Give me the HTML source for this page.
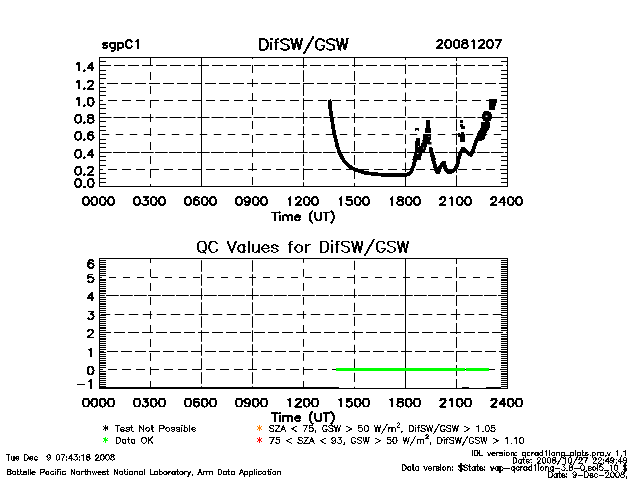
<!DOCTYPE html>
<html><head><meta charset="utf-8"><title>DifSW/GSW</title>
<style>html,body{margin:0;padding:0;background:#fff;font-family:"Liberation Sans",sans-serif}svg{position:absolute;left:0;top:0}</style></head>
<body>
<svg width="640" height="480" viewBox="0 0 640 480" style="display:block">
<rect width="640" height="480" fill="#fff"/>
<g shape-rendering="auto">
<rect x="99" y="57" width="409" height="1"/>
<rect x="99" y="186" width="409" height="1"/>
<rect x="99" y="57" width="1" height="130"/>
<rect x="507" y="57" width="1" height="130"/>
<rect x="100" y="182" width="6" height="1"/>
<rect x="501" y="182" width="6" height="1"/>
<rect x="100" y="178" width="6" height="1"/>
<rect x="501" y="178" width="6" height="1"/>
<rect x="100" y="173" width="6" height="1"/>
<rect x="501" y="173" width="6" height="1"/>
<rect x="100" y="165" width="6" height="1"/>
<rect x="501" y="165" width="6" height="1"/>
<rect x="100" y="160" width="6" height="1"/>
<rect x="501" y="160" width="6" height="1"/>
<rect x="100" y="156" width="6" height="1"/>
<rect x="501" y="156" width="6" height="1"/>
<rect x="100" y="147" width="6" height="1"/>
<rect x="501" y="147" width="6" height="1"/>
<rect x="100" y="143" width="6" height="1"/>
<rect x="501" y="143" width="6" height="1"/>
<rect x="100" y="139" width="6" height="1"/>
<rect x="501" y="139" width="6" height="1"/>
<rect x="100" y="130" width="6" height="1"/>
<rect x="501" y="130" width="6" height="1"/>
<rect x="100" y="126" width="6" height="1"/>
<rect x="501" y="126" width="6" height="1"/>
<rect x="100" y="121" width="6" height="1"/>
<rect x="501" y="121" width="6" height="1"/>
<rect x="100" y="113" width="6" height="1"/>
<rect x="501" y="113" width="6" height="1"/>
<rect x="100" y="108" width="6" height="1"/>
<rect x="501" y="108" width="6" height="1"/>
<rect x="100" y="104" width="6" height="1"/>
<rect x="501" y="104" width="6" height="1"/>
<rect x="100" y="95" width="6" height="1"/>
<rect x="501" y="95" width="6" height="1"/>
<rect x="100" y="91" width="6" height="1"/>
<rect x="501" y="91" width="6" height="1"/>
<rect x="100" y="87" width="6" height="1"/>
<rect x="501" y="87" width="6" height="1"/>
<rect x="100" y="78" width="6" height="1"/>
<rect x="501" y="78" width="6" height="1"/>
<rect x="100" y="74" width="6" height="1"/>
<rect x="501" y="74" width="6" height="1"/>
<rect x="100" y="70" width="6" height="1"/>
<rect x="501" y="70" width="6" height="1"/>
<rect x="100" y="61" width="6" height="1"/>
<rect x="501" y="61" width="6" height="1"/>
<rect x="100" y="65" width="11" height="1"/>
<rect x="114" y="65" width="11" height="1"/>
<rect x="128" y="65" width="11" height="1"/>
<rect x="142" y="65" width="11" height="1"/>
<rect x="156" y="65" width="11" height="1"/>
<rect x="170" y="65" width="11" height="1"/>
<rect x="184" y="65" width="11" height="1"/>
<rect x="198" y="65" width="11" height="1"/>
<rect x="212" y="65" width="11" height="1"/>
<rect x="226" y="65" width="11" height="1"/>
<rect x="240" y="65" width="11" height="1"/>
<rect x="254" y="65" width="11" height="1"/>
<rect x="268" y="65" width="11" height="1"/>
<rect x="282" y="65" width="11" height="1"/>
<rect x="296" y="65" width="11" height="1"/>
<rect x="310" y="65" width="11" height="1"/>
<rect x="324" y="65" width="11" height="1"/>
<rect x="338" y="65" width="11" height="1"/>
<rect x="352" y="65" width="11" height="1"/>
<rect x="366" y="65" width="11" height="1"/>
<rect x="380" y="65" width="11" height="1"/>
<rect x="394" y="65" width="11" height="1"/>
<rect x="408" y="65" width="11" height="1"/>
<rect x="422" y="65" width="11" height="1"/>
<rect x="436" y="65" width="11" height="1"/>
<rect x="450" y="65" width="11" height="1"/>
<rect x="464" y="65" width="11" height="1"/>
<rect x="478" y="65" width="11" height="1"/>
<rect x="492" y="65" width="11" height="1"/>
<rect x="506" y="65" width="1" height="1"/>
<rect x="100" y="83" width="4" height="1"/>
<rect x="107" y="83" width="11" height="1"/>
<rect x="121" y="83" width="11" height="1"/>
<rect x="135" y="83" width="11" height="1"/>
<rect x="149" y="83" width="11" height="1"/>
<rect x="163" y="83" width="11" height="1"/>
<rect x="177" y="83" width="11" height="1"/>
<rect x="191" y="83" width="11" height="1"/>
<rect x="205" y="83" width="11" height="1"/>
<rect x="219" y="83" width="11" height="1"/>
<rect x="233" y="83" width="11" height="1"/>
<rect x="247" y="83" width="11" height="1"/>
<rect x="261" y="83" width="11" height="1"/>
<rect x="275" y="83" width="11" height="1"/>
<rect x="289" y="83" width="11" height="1"/>
<rect x="303" y="83" width="11" height="1"/>
<rect x="317" y="83" width="11" height="1"/>
<rect x="331" y="83" width="11" height="1"/>
<rect x="345" y="83" width="11" height="1"/>
<rect x="359" y="83" width="11" height="1"/>
<rect x="373" y="83" width="11" height="1"/>
<rect x="387" y="83" width="11" height="1"/>
<rect x="401" y="83" width="11" height="1"/>
<rect x="415" y="83" width="11" height="1"/>
<rect x="429" y="83" width="11" height="1"/>
<rect x="443" y="83" width="11" height="1"/>
<rect x="457" y="83" width="11" height="1"/>
<rect x="471" y="83" width="11" height="1"/>
<rect x="485" y="83" width="11" height="1"/>
<rect x="499" y="83" width="8" height="1"/>
<rect x="100" y="100" width="3" height="1"/>
<rect x="108" y="100" width="9" height="1"/>
<rect x="122" y="100" width="9" height="1"/>
<rect x="136" y="100" width="9" height="1"/>
<rect x="150" y="100" width="9" height="1"/>
<rect x="164" y="100" width="9" height="1"/>
<rect x="178" y="100" width="9" height="1"/>
<rect x="192" y="100" width="9" height="1"/>
<rect x="206" y="100" width="9" height="1"/>
<rect x="220" y="100" width="9" height="1"/>
<rect x="234" y="100" width="9" height="1"/>
<rect x="248" y="100" width="9" height="1"/>
<rect x="262" y="100" width="9" height="1"/>
<rect x="276" y="100" width="9" height="1"/>
<rect x="290" y="100" width="9" height="1"/>
<rect x="304" y="100" width="9" height="1"/>
<rect x="318" y="100" width="9" height="1"/>
<rect x="332" y="100" width="9" height="1"/>
<rect x="346" y="100" width="9" height="1"/>
<rect x="360" y="100" width="9" height="1"/>
<rect x="374" y="100" width="9" height="1"/>
<rect x="388" y="100" width="9" height="1"/>
<rect x="402" y="100" width="9" height="1"/>
<rect x="416" y="100" width="9" height="1"/>
<rect x="430" y="100" width="9" height="1"/>
<rect x="444" y="100" width="9" height="1"/>
<rect x="458" y="100" width="9" height="1"/>
<rect x="472" y="100" width="9" height="1"/>
<rect x="486" y="100" width="9" height="1"/>
<rect x="500" y="100" width="7" height="1"/>
<rect x="100" y="117" width="11.5" height="1"/>
<rect x="113.5" y="117" width="12" height="1"/>
<rect x="127.5" y="117" width="12" height="1"/>
<rect x="141.5" y="117" width="12" height="1"/>
<rect x="155.5" y="117" width="12" height="1"/>
<rect x="169.5" y="117" width="12" height="1"/>
<rect x="183.5" y="117" width="12" height="1"/>
<rect x="197.5" y="117" width="12" height="1"/>
<rect x="211.5" y="117" width="12" height="1"/>
<rect x="225.5" y="117" width="12" height="1"/>
<rect x="239.5" y="117" width="12" height="1"/>
<rect x="253.5" y="117" width="12" height="1"/>
<rect x="267.5" y="117" width="12" height="1"/>
<rect x="281.5" y="117" width="12" height="1"/>
<rect x="295.5" y="117" width="12" height="1"/>
<rect x="309.5" y="117" width="12" height="1"/>
<rect x="323.5" y="117" width="12" height="1"/>
<rect x="337.5" y="117" width="12" height="1"/>
<rect x="351.5" y="117" width="12" height="1"/>
<rect x="365.5" y="117" width="12" height="1"/>
<rect x="379.5" y="117" width="12" height="1"/>
<rect x="393.5" y="117" width="12" height="1"/>
<rect x="407.5" y="117" width="12" height="1"/>
<rect x="421.5" y="117" width="12" height="1"/>
<rect x="435.5" y="117" width="12" height="1"/>
<rect x="449.5" y="117" width="12" height="1"/>
<rect x="463.5" y="117" width="12" height="1"/>
<rect x="477.5" y="117" width="12" height="1"/>
<rect x="491.5" y="117" width="12" height="1"/>
<rect x="505.5" y="117" width="1.5" height="1"/>
<rect x="101.8" y="134" width="7.4" height="1"/>
<rect x="115.8" y="134" width="7.4" height="1"/>
<rect x="129.8" y="134" width="7.4" height="1"/>
<rect x="143.8" y="134" width="7.4" height="1"/>
<rect x="157.8" y="134" width="7.4" height="1"/>
<rect x="171.8" y="134" width="7.4" height="1"/>
<rect x="185.8" y="134" width="7.4" height="1"/>
<rect x="199.8" y="134" width="7.4" height="1"/>
<rect x="213.8" y="134" width="7.4" height="1"/>
<rect x="227.8" y="134" width="7.4" height="1"/>
<rect x="241.8" y="134" width="7.4" height="1"/>
<rect x="255.8" y="134" width="7.4" height="1"/>
<rect x="269.8" y="134" width="7.4" height="1"/>
<rect x="283.8" y="134" width="7.4" height="1"/>
<rect x="297.8" y="134" width="7.4" height="1"/>
<rect x="311.8" y="134" width="7.4" height="1"/>
<rect x="325.8" y="134" width="7.4" height="1"/>
<rect x="339.8" y="134" width="7.4" height="1"/>
<rect x="353.8" y="134" width="7.4" height="1"/>
<rect x="367.8" y="134" width="7.4" height="1"/>
<rect x="381.8" y="134" width="7.4" height="1"/>
<rect x="395.8" y="134" width="7.4" height="1"/>
<rect x="409.8" y="134" width="7.4" height="1"/>
<rect x="423.8" y="134" width="7.4" height="1"/>
<rect x="437.8" y="134" width="7.4" height="1"/>
<rect x="451.8" y="134" width="7.4" height="1"/>
<rect x="465.8" y="134" width="7.4" height="1"/>
<rect x="479.8" y="134" width="7.4" height="1"/>
<rect x="493.8" y="134" width="7.4" height="1"/>
<rect x="100" y="152" width="11.7" height="1"/>
<rect x="113" y="152" width="12.7" height="1"/>
<rect x="127" y="152" width="12.7" height="1"/>
<rect x="141" y="152" width="12.7" height="1"/>
<rect x="155" y="152" width="12.7" height="1"/>
<rect x="169" y="152" width="12.7" height="1"/>
<rect x="183" y="152" width="12.7" height="1"/>
<rect x="197" y="152" width="12.7" height="1"/>
<rect x="211" y="152" width="12.7" height="1"/>
<rect x="225" y="152" width="12.7" height="1"/>
<rect x="239" y="152" width="12.7" height="1"/>
<rect x="253" y="152" width="12.7" height="1"/>
<rect x="267" y="152" width="12.7" height="1"/>
<rect x="281" y="152" width="12.7" height="1"/>
<rect x="295" y="152" width="12.7" height="1"/>
<rect x="309" y="152" width="12.7" height="1"/>
<rect x="323" y="152" width="12.7" height="1"/>
<rect x="337" y="152" width="12.7" height="1"/>
<rect x="351" y="152" width="12.7" height="1"/>
<rect x="365" y="152" width="12.7" height="1"/>
<rect x="379" y="152" width="12.7" height="1"/>
<rect x="393" y="152" width="12.7" height="1"/>
<rect x="407" y="152" width="12.7" height="1"/>
<rect x="421" y="152" width="12.7" height="1"/>
<rect x="435" y="152" width="12.7" height="1"/>
<rect x="449" y="152" width="12.7" height="1"/>
<rect x="463" y="152" width="12.7" height="1"/>
<rect x="477" y="152" width="12.7" height="1"/>
<rect x="491" y="152" width="12.7" height="1"/>
<rect x="505" y="152" width="2" height="1"/>
<rect x="100" y="169" width="3" height="1"/>
<rect x="108" y="169" width="9" height="1"/>
<rect x="122" y="169" width="9" height="1"/>
<rect x="136" y="169" width="9" height="1"/>
<rect x="150" y="169" width="9" height="1"/>
<rect x="164" y="169" width="9" height="1"/>
<rect x="178" y="169" width="9" height="1"/>
<rect x="192" y="169" width="9" height="1"/>
<rect x="206" y="169" width="9" height="1"/>
<rect x="220" y="169" width="9" height="1"/>
<rect x="234" y="169" width="9" height="1"/>
<rect x="248" y="169" width="9" height="1"/>
<rect x="262" y="169" width="9" height="1"/>
<rect x="276" y="169" width="9" height="1"/>
<rect x="290" y="169" width="9" height="1"/>
<rect x="304" y="169" width="9" height="1"/>
<rect x="318" y="169" width="9" height="1"/>
<rect x="332" y="169" width="9" height="1"/>
<rect x="346" y="169" width="9" height="1"/>
<rect x="360" y="169" width="9" height="1"/>
<rect x="374" y="169" width="9" height="1"/>
<rect x="388" y="169" width="9" height="1"/>
<rect x="402" y="169" width="9" height="1"/>
<rect x="416" y="169" width="9" height="1"/>
<rect x="430" y="169" width="9" height="1"/>
<rect x="444" y="169" width="9" height="1"/>
<rect x="458" y="169" width="9" height="1"/>
<rect x="472" y="169" width="9" height="1"/>
<rect x="486" y="169" width="9" height="1"/>
<rect x="500" y="169" width="7" height="1"/>
<rect x="150" y="58" width="1" height="8"/>
<rect x="150" y="72" width="1" height="8"/>
<rect x="150" y="86" width="1" height="8"/>
<rect x="150" y="100" width="1" height="8"/>
<rect x="150" y="114" width="1" height="8"/>
<rect x="150" y="128" width="1" height="8"/>
<rect x="150" y="142" width="1" height="8"/>
<rect x="150" y="156" width="1" height="8"/>
<rect x="150" y="170" width="1" height="8"/>
<rect x="150" y="184" width="1" height="2"/>
<rect x="201" y="58" width="1" height="12"/>
<rect x="201" y="70" width="1" height="14"/>
<rect x="201" y="84" width="1" height="14"/>
<rect x="201" y="98" width="1" height="14"/>
<rect x="201" y="112" width="1" height="14"/>
<rect x="201" y="126" width="1" height="14"/>
<rect x="201" y="140" width="1" height="14"/>
<rect x="201" y="154" width="1" height="14"/>
<rect x="201" y="168" width="1" height="14"/>
<rect x="201" y="182" width="1" height="4"/>
<rect x="252" y="58" width="1" height="1"/>
<rect x="252" y="65" width="1" height="8"/>
<rect x="252" y="79" width="1" height="8"/>
<rect x="252" y="93" width="1" height="8"/>
<rect x="252" y="107" width="1" height="8"/>
<rect x="252" y="121" width="1" height="8"/>
<rect x="252" y="135" width="1" height="8"/>
<rect x="252" y="149" width="1" height="8"/>
<rect x="252" y="163" width="1" height="8"/>
<rect x="252" y="177" width="1" height="8"/>
<rect x="303" y="58" width="1" height="10"/>
<rect x="303" y="70.2" width="1" height="11.8"/>
<rect x="303" y="84.2" width="1" height="11.8"/>
<rect x="303" y="98.2" width="1" height="11.8"/>
<rect x="303" y="112.2" width="1" height="11.8"/>
<rect x="303" y="126.2" width="1" height="11.8"/>
<rect x="303" y="140.2" width="1" height="11.8"/>
<rect x="303" y="154.2" width="1" height="11.8"/>
<rect x="303" y="168.2" width="1" height="11.8"/>
<rect x="303" y="182.2" width="1" height="3.8"/>
<rect x="354" y="58" width="1" height="9"/>
<rect x="354" y="71" width="1" height="10"/>
<rect x="354" y="85" width="1" height="10"/>
<rect x="354" y="99" width="1" height="10"/>
<rect x="354" y="113" width="1" height="10"/>
<rect x="354" y="127" width="1" height="10"/>
<rect x="354" y="141" width="1" height="10"/>
<rect x="354" y="155" width="1" height="10"/>
<rect x="354" y="169" width="1" height="10"/>
<rect x="354" y="183" width="1" height="3"/>
<rect x="405" y="58" width="1" height="2"/>
<rect x="405" y="64.5" width="1" height="9.5"/>
<rect x="405" y="78.5" width="1" height="9.5"/>
<rect x="405" y="92.5" width="1" height="9.5"/>
<rect x="405" y="106.5" width="1" height="9.5"/>
<rect x="405" y="120.5" width="1" height="9.5"/>
<rect x="405" y="134.5" width="1" height="9.5"/>
<rect x="405" y="148.5" width="1" height="9.5"/>
<rect x="405" y="162.5" width="1" height="9.5"/>
<rect x="405" y="176.5" width="1" height="9.5"/>
<rect x="456" y="58" width="1" height="3"/>
<rect x="456" y="63.2" width="1" height="11.8"/>
<rect x="456" y="77.2" width="1" height="11.8"/>
<rect x="456" y="91.2" width="1" height="11.8"/>
<rect x="456" y="105.2" width="1" height="11.8"/>
<rect x="456" y="119.2" width="1" height="11.8"/>
<rect x="456" y="133.2" width="1" height="11.8"/>
<rect x="456" y="147.2" width="1" height="11.8"/>
<rect x="456" y="161.2" width="1" height="11.8"/>
<rect x="456" y="175.2" width="1" height="10.8"/>
<rect x="99" y="258" width="409" height="1"/>
<rect x="99" y="388" width="409" height="1"/>
<rect x="99" y="258" width="1" height="131"/>
<rect x="507" y="258" width="1" height="131"/>
<rect x="100" y="386" width="6" height="1"/>
<rect x="501" y="386" width="6" height="1"/>
<rect x="100" y="384" width="6" height="1"/>
<rect x="501" y="384" width="6" height="1"/>
<rect x="100" y="382" width="6" height="1"/>
<rect x="501" y="382" width="6" height="1"/>
<rect x="100" y="380" width="6" height="1"/>
<rect x="501" y="380" width="6" height="1"/>
<rect x="100" y="378" width="6" height="1"/>
<rect x="501" y="378" width="6" height="1"/>
<rect x="100" y="376" width="6" height="1"/>
<rect x="501" y="376" width="6" height="1"/>
<rect x="100" y="374" width="6" height="1"/>
<rect x="501" y="374" width="6" height="1"/>
<rect x="100" y="373" width="6" height="1"/>
<rect x="501" y="373" width="6" height="1"/>
<rect x="100" y="371" width="6" height="1"/>
<rect x="501" y="371" width="6" height="1"/>
<rect x="100" y="367" width="6" height="1"/>
<rect x="501" y="367" width="6" height="1"/>
<rect x="100" y="365" width="6" height="1"/>
<rect x="501" y="365" width="6" height="1"/>
<rect x="100" y="363" width="6" height="1"/>
<rect x="501" y="363" width="6" height="1"/>
<rect x="100" y="362" width="6" height="1"/>
<rect x="501" y="362" width="6" height="1"/>
<rect x="100" y="360" width="6" height="1"/>
<rect x="501" y="360" width="6" height="1"/>
<rect x="100" y="358" width="6" height="1"/>
<rect x="501" y="358" width="6" height="1"/>
<rect x="100" y="356" width="6" height="1"/>
<rect x="501" y="356" width="6" height="1"/>
<rect x="100" y="354" width="6" height="1"/>
<rect x="501" y="354" width="6" height="1"/>
<rect x="100" y="352" width="6" height="1"/>
<rect x="501" y="352" width="6" height="1"/>
<rect x="100" y="349" width="6" height="1"/>
<rect x="501" y="349" width="6" height="1"/>
<rect x="100" y="347" width="6" height="1"/>
<rect x="501" y="347" width="6" height="1"/>
<rect x="100" y="345" width="6" height="1"/>
<rect x="501" y="345" width="6" height="1"/>
<rect x="100" y="343" width="6" height="1"/>
<rect x="501" y="343" width="6" height="1"/>
<rect x="100" y="341" width="6" height="1"/>
<rect x="501" y="341" width="6" height="1"/>
<rect x="100" y="339" width="6" height="1"/>
<rect x="501" y="339" width="6" height="1"/>
<rect x="100" y="338" width="6" height="1"/>
<rect x="501" y="338" width="6" height="1"/>
<rect x="100" y="336" width="6" height="1"/>
<rect x="501" y="336" width="6" height="1"/>
<rect x="100" y="334" width="6" height="1"/>
<rect x="501" y="334" width="6" height="1"/>
<rect x="100" y="330" width="6" height="1"/>
<rect x="501" y="330" width="6" height="1"/>
<rect x="100" y="328" width="6" height="1"/>
<rect x="501" y="328" width="6" height="1"/>
<rect x="100" y="327" width="6" height="1"/>
<rect x="501" y="327" width="6" height="1"/>
<rect x="100" y="325" width="6" height="1"/>
<rect x="501" y="325" width="6" height="1"/>
<rect x="100" y="323" width="6" height="1"/>
<rect x="501" y="323" width="6" height="1"/>
<rect x="100" y="321" width="6" height="1"/>
<rect x="501" y="321" width="6" height="1"/>
<rect x="100" y="319" width="6" height="1"/>
<rect x="501" y="319" width="6" height="1"/>
<rect x="100" y="317" width="6" height="1"/>
<rect x="501" y="317" width="6" height="1"/>
<rect x="100" y="315" width="6" height="1"/>
<rect x="501" y="315" width="6" height="1"/>
<rect x="100" y="312" width="6" height="1"/>
<rect x="501" y="312" width="6" height="1"/>
<rect x="100" y="310" width="6" height="1"/>
<rect x="501" y="310" width="6" height="1"/>
<rect x="100" y="308" width="6" height="1"/>
<rect x="501" y="308" width="6" height="1"/>
<rect x="100" y="306" width="6" height="1"/>
<rect x="501" y="306" width="6" height="1"/>
<rect x="100" y="304" width="6" height="1"/>
<rect x="501" y="304" width="6" height="1"/>
<rect x="100" y="303" width="6" height="1"/>
<rect x="501" y="303" width="6" height="1"/>
<rect x="100" y="301" width="6" height="1"/>
<rect x="501" y="301" width="6" height="1"/>
<rect x="100" y="299" width="6" height="1"/>
<rect x="501" y="299" width="6" height="1"/>
<rect x="100" y="297" width="6" height="1"/>
<rect x="501" y="297" width="6" height="1"/>
<rect x="100" y="293" width="6" height="1"/>
<rect x="501" y="293" width="6" height="1"/>
<rect x="100" y="291" width="6" height="1"/>
<rect x="501" y="291" width="6" height="1"/>
<rect x="100" y="290" width="6" height="1"/>
<rect x="501" y="290" width="6" height="1"/>
<rect x="100" y="288" width="6" height="1"/>
<rect x="501" y="288" width="6" height="1"/>
<rect x="100" y="286" width="6" height="1"/>
<rect x="501" y="286" width="6" height="1"/>
<rect x="100" y="284" width="6" height="1"/>
<rect x="501" y="284" width="6" height="1"/>
<rect x="100" y="282" width="6" height="1"/>
<rect x="501" y="282" width="6" height="1"/>
<rect x="100" y="280" width="6" height="1"/>
<rect x="501" y="280" width="6" height="1"/>
<rect x="100" y="279" width="6" height="1"/>
<rect x="501" y="279" width="6" height="1"/>
<rect x="100" y="275" width="6" height="1"/>
<rect x="501" y="275" width="6" height="1"/>
<rect x="100" y="273" width="6" height="1"/>
<rect x="501" y="273" width="6" height="1"/>
<rect x="100" y="271" width="6" height="1"/>
<rect x="501" y="271" width="6" height="1"/>
<rect x="100" y="269" width="6" height="1"/>
<rect x="501" y="269" width="6" height="1"/>
<rect x="100" y="267" width="6" height="1"/>
<rect x="501" y="267" width="6" height="1"/>
<rect x="100" y="266" width="6" height="1"/>
<rect x="501" y="266" width="6" height="1"/>
<rect x="100" y="264" width="6" height="1"/>
<rect x="501" y="264" width="6" height="1"/>
<rect x="100" y="262" width="6" height="1"/>
<rect x="501" y="262" width="6" height="1"/>
<rect x="100" y="260" width="6" height="1"/>
<rect x="501" y="260" width="6" height="1"/>
<rect x="100" y="277" width="2" height="1"/>
<rect x="109" y="277" width="7" height="1"/>
<rect x="123" y="277" width="7" height="1"/>
<rect x="137" y="277" width="7" height="1"/>
<rect x="151" y="277" width="7" height="1"/>
<rect x="165" y="277" width="7" height="1"/>
<rect x="179" y="277" width="7" height="1"/>
<rect x="193" y="277" width="7" height="1"/>
<rect x="207" y="277" width="7" height="1"/>
<rect x="221" y="277" width="7" height="1"/>
<rect x="235" y="277" width="7" height="1"/>
<rect x="249" y="277" width="7" height="1"/>
<rect x="263" y="277" width="7" height="1"/>
<rect x="277" y="277" width="7" height="1"/>
<rect x="291" y="277" width="7" height="1"/>
<rect x="305" y="277" width="7" height="1"/>
<rect x="319" y="277" width="7" height="1"/>
<rect x="333" y="277" width="7" height="1"/>
<rect x="347" y="277" width="7" height="1"/>
<rect x="361" y="277" width="7" height="1"/>
<rect x="375" y="277" width="7" height="1"/>
<rect x="389" y="277" width="7" height="1"/>
<rect x="403" y="277" width="7" height="1"/>
<rect x="417" y="277" width="7" height="1"/>
<rect x="431" y="277" width="7" height="1"/>
<rect x="445" y="277" width="7" height="1"/>
<rect x="459" y="277" width="7" height="1"/>
<rect x="473" y="277" width="7" height="1"/>
<rect x="487" y="277" width="7" height="1"/>
<rect x="501" y="277" width="6" height="1"/>
<rect x="100" y="295" width="4.8" height="1"/>
<rect x="106" y="295" width="12.8" height="1"/>
<rect x="120" y="295" width="12.8" height="1"/>
<rect x="134" y="295" width="12.8" height="1"/>
<rect x="148" y="295" width="12.8" height="1"/>
<rect x="162" y="295" width="12.8" height="1"/>
<rect x="176" y="295" width="12.8" height="1"/>
<rect x="190" y="295" width="12.8" height="1"/>
<rect x="204" y="295" width="12.8" height="1"/>
<rect x="218" y="295" width="12.8" height="1"/>
<rect x="232" y="295" width="12.8" height="1"/>
<rect x="246" y="295" width="12.8" height="1"/>
<rect x="260" y="295" width="12.8" height="1"/>
<rect x="274" y="295" width="12.8" height="1"/>
<rect x="288" y="295" width="12.8" height="1"/>
<rect x="302" y="295" width="12.8" height="1"/>
<rect x="316" y="295" width="12.8" height="1"/>
<rect x="330" y="295" width="12.8" height="1"/>
<rect x="344" y="295" width="12.8" height="1"/>
<rect x="358" y="295" width="12.8" height="1"/>
<rect x="372" y="295" width="12.8" height="1"/>
<rect x="386" y="295" width="12.8" height="1"/>
<rect x="400" y="295" width="12.8" height="1"/>
<rect x="414" y="295" width="12.8" height="1"/>
<rect x="428" y="295" width="12.8" height="1"/>
<rect x="442" y="295" width="12.8" height="1"/>
<rect x="456" y="295" width="12.8" height="1"/>
<rect x="470" y="295" width="12.8" height="1"/>
<rect x="484" y="295" width="12.8" height="1"/>
<rect x="498" y="295" width="9" height="1"/>
<rect x="100.8" y="314" width="9.4" height="1"/>
<rect x="114.8" y="314" width="9.4" height="1"/>
<rect x="128.8" y="314" width="9.4" height="1"/>
<rect x="142.8" y="314" width="9.4" height="1"/>
<rect x="156.8" y="314" width="9.4" height="1"/>
<rect x="170.8" y="314" width="9.4" height="1"/>
<rect x="184.8" y="314" width="9.4" height="1"/>
<rect x="198.8" y="314" width="9.4" height="1"/>
<rect x="212.8" y="314" width="9.4" height="1"/>
<rect x="226.8" y="314" width="9.4" height="1"/>
<rect x="240.8" y="314" width="9.4" height="1"/>
<rect x="254.8" y="314" width="9.4" height="1"/>
<rect x="268.8" y="314" width="9.4" height="1"/>
<rect x="282.8" y="314" width="9.4" height="1"/>
<rect x="296.8" y="314" width="9.4" height="1"/>
<rect x="310.8" y="314" width="9.4" height="1"/>
<rect x="324.8" y="314" width="9.4" height="1"/>
<rect x="338.8" y="314" width="9.4" height="1"/>
<rect x="352.8" y="314" width="9.4" height="1"/>
<rect x="366.8" y="314" width="9.4" height="1"/>
<rect x="380.8" y="314" width="9.4" height="1"/>
<rect x="394.8" y="314" width="9.4" height="1"/>
<rect x="408.8" y="314" width="9.4" height="1"/>
<rect x="422.8" y="314" width="9.4" height="1"/>
<rect x="436.8" y="314" width="9.4" height="1"/>
<rect x="450.8" y="314" width="9.4" height="1"/>
<rect x="464.8" y="314" width="9.4" height="1"/>
<rect x="478.8" y="314" width="9.4" height="1"/>
<rect x="492.8" y="314" width="9.4" height="1"/>
<rect x="506.8" y="314" width="0.2" height="1"/>
<rect x="100" y="332" width="11" height="1"/>
<rect x="114" y="332" width="11" height="1"/>
<rect x="128" y="332" width="11" height="1"/>
<rect x="142" y="332" width="11" height="1"/>
<rect x="156" y="332" width="11" height="1"/>
<rect x="170" y="332" width="11" height="1"/>
<rect x="184" y="332" width="11" height="1"/>
<rect x="198" y="332" width="11" height="1"/>
<rect x="212" y="332" width="11" height="1"/>
<rect x="226" y="332" width="11" height="1"/>
<rect x="240" y="332" width="11" height="1"/>
<rect x="254" y="332" width="11" height="1"/>
<rect x="268" y="332" width="11" height="1"/>
<rect x="282" y="332" width="11" height="1"/>
<rect x="296" y="332" width="11" height="1"/>
<rect x="310" y="332" width="11" height="1"/>
<rect x="324" y="332" width="11" height="1"/>
<rect x="338" y="332" width="11" height="1"/>
<rect x="352" y="332" width="11" height="1"/>
<rect x="366" y="332" width="11" height="1"/>
<rect x="380" y="332" width="11" height="1"/>
<rect x="394" y="332" width="11" height="1"/>
<rect x="408" y="332" width="11" height="1"/>
<rect x="422" y="332" width="11" height="1"/>
<rect x="436" y="332" width="11" height="1"/>
<rect x="450" y="332" width="11" height="1"/>
<rect x="464" y="332" width="11" height="1"/>
<rect x="478" y="332" width="11" height="1"/>
<rect x="492" y="332" width="11" height="1"/>
<rect x="506" y="332" width="1" height="1"/>
<rect x="100" y="351" width="4" height="1"/>
<rect x="107" y="351" width="11" height="1"/>
<rect x="121" y="351" width="11" height="1"/>
<rect x="135" y="351" width="11" height="1"/>
<rect x="149" y="351" width="11" height="1"/>
<rect x="163" y="351" width="11" height="1"/>
<rect x="177" y="351" width="11" height="1"/>
<rect x="191" y="351" width="11" height="1"/>
<rect x="205" y="351" width="11" height="1"/>
<rect x="219" y="351" width="11" height="1"/>
<rect x="233" y="351" width="11" height="1"/>
<rect x="247" y="351" width="11" height="1"/>
<rect x="261" y="351" width="11" height="1"/>
<rect x="275" y="351" width="11" height="1"/>
<rect x="289" y="351" width="11" height="1"/>
<rect x="303" y="351" width="11" height="1"/>
<rect x="317" y="351" width="11" height="1"/>
<rect x="331" y="351" width="11" height="1"/>
<rect x="345" y="351" width="11" height="1"/>
<rect x="359" y="351" width="11" height="1"/>
<rect x="373" y="351" width="11" height="1"/>
<rect x="387" y="351" width="11" height="1"/>
<rect x="401" y="351" width="11" height="1"/>
<rect x="415" y="351" width="11" height="1"/>
<rect x="429" y="351" width="11" height="1"/>
<rect x="443" y="351" width="11" height="1"/>
<rect x="457" y="351" width="11" height="1"/>
<rect x="471" y="351" width="11" height="1"/>
<rect x="485" y="351" width="11" height="1"/>
<rect x="499" y="351" width="8" height="1"/>
<rect x="100" y="369" width="3" height="1"/>
<rect x="108" y="369" width="9" height="1"/>
<rect x="122" y="369" width="9" height="1"/>
<rect x="136" y="369" width="9" height="1"/>
<rect x="150" y="369" width="9" height="1"/>
<rect x="164" y="369" width="9" height="1"/>
<rect x="178" y="369" width="9" height="1"/>
<rect x="192" y="369" width="9" height="1"/>
<rect x="206" y="369" width="9" height="1"/>
<rect x="220" y="369" width="9" height="1"/>
<rect x="234" y="369" width="9" height="1"/>
<rect x="248" y="369" width="9" height="1"/>
<rect x="262" y="369" width="9" height="1"/>
<rect x="276" y="369" width="9" height="1"/>
<rect x="290" y="369" width="9" height="1"/>
<rect x="304" y="369" width="9" height="1"/>
<rect x="318" y="369" width="9" height="1"/>
<rect x="332" y="369" width="9" height="1"/>
<rect x="346" y="369" width="9" height="1"/>
<rect x="360" y="369" width="9" height="1"/>
<rect x="374" y="369" width="9" height="1"/>
<rect x="388" y="369" width="9" height="1"/>
<rect x="402" y="369" width="9" height="1"/>
<rect x="416" y="369" width="9" height="1"/>
<rect x="430" y="369" width="9" height="1"/>
<rect x="444" y="369" width="9" height="1"/>
<rect x="458" y="369" width="9" height="1"/>
<rect x="472" y="369" width="9" height="1"/>
<rect x="486" y="369" width="9" height="1"/>
<rect x="500" y="369" width="7" height="1"/>
<rect x="150" y="259" width="1" height="4"/>
<rect x="150" y="269" width="1" height="8"/>
<rect x="150" y="283" width="1" height="8"/>
<rect x="150" y="297" width="1" height="8"/>
<rect x="150" y="311" width="1" height="8"/>
<rect x="150" y="325" width="1" height="8"/>
<rect x="150" y="339" width="1" height="8"/>
<rect x="150" y="353" width="1" height="8"/>
<rect x="150" y="367" width="1" height="8"/>
<rect x="150" y="381" width="1" height="7"/>
<rect x="201" y="260.2" width="1" height="11.6"/>
<rect x="201" y="274.2" width="1" height="11.6"/>
<rect x="201" y="288.2" width="1" height="11.6"/>
<rect x="201" y="302.2" width="1" height="11.6"/>
<rect x="201" y="316.2" width="1" height="11.6"/>
<rect x="201" y="330.2" width="1" height="11.6"/>
<rect x="201" y="344.2" width="1" height="11.6"/>
<rect x="201" y="358.2" width="1" height="11.6"/>
<rect x="201" y="372.2" width="1" height="11.6"/>
<rect x="201" y="386.2" width="1" height="1.8"/>
<rect x="252" y="260.2" width="1" height="11.6"/>
<rect x="252" y="274.2" width="1" height="11.6"/>
<rect x="252" y="288.2" width="1" height="11.6"/>
<rect x="252" y="302.2" width="1" height="11.6"/>
<rect x="252" y="316.2" width="1" height="11.6"/>
<rect x="252" y="330.2" width="1" height="11.6"/>
<rect x="252" y="344.2" width="1" height="11.6"/>
<rect x="252" y="358.2" width="1" height="11.6"/>
<rect x="252" y="372.2" width="1" height="11.6"/>
<rect x="252" y="386.2" width="1" height="1.8"/>
<rect x="303" y="259" width="1" height="3.8"/>
<rect x="303" y="269" width="1" height="7.8"/>
<rect x="303" y="283" width="1" height="7.8"/>
<rect x="303" y="297" width="1" height="7.8"/>
<rect x="303" y="311" width="1" height="7.8"/>
<rect x="303" y="325" width="1" height="7.8"/>
<rect x="303" y="339" width="1" height="7.8"/>
<rect x="303" y="353" width="1" height="7.8"/>
<rect x="303" y="367" width="1" height="7.8"/>
<rect x="303" y="381" width="1" height="7"/>
<rect x="354" y="260.8" width="1" height="9.2"/>
<rect x="354" y="274.8" width="1" height="9.2"/>
<rect x="354" y="288.8" width="1" height="9.2"/>
<rect x="354" y="302.8" width="1" height="9.2"/>
<rect x="354" y="316.8" width="1" height="9.2"/>
<rect x="354" y="330.8" width="1" height="9.2"/>
<rect x="354" y="344.8" width="1" height="9.2"/>
<rect x="354" y="358.8" width="1" height="9.2"/>
<rect x="354" y="372.8" width="1" height="9.2"/>
<rect x="354" y="386.8" width="1" height="1.2"/>
<rect x="405" y="259" width="1" height="7"/>
<rect x="405" y="266" width="1" height="14"/>
<rect x="405" y="280" width="1" height="14"/>
<rect x="405" y="294" width="1" height="14"/>
<rect x="405" y="308" width="1" height="14"/>
<rect x="405" y="322" width="1" height="14"/>
<rect x="405" y="336" width="1" height="14"/>
<rect x="405" y="350" width="1" height="14"/>
<rect x="405" y="364" width="1" height="14"/>
<rect x="405" y="378" width="1" height="10"/>
<rect x="456" y="259" width="1" height="5"/>
<rect x="456" y="267" width="1" height="11"/>
<rect x="456" y="281" width="1" height="11"/>
<rect x="456" y="295" width="1" height="11"/>
<rect x="456" y="309" width="1" height="11"/>
<rect x="456" y="323" width="1" height="11"/>
<rect x="456" y="337" width="1" height="11"/>
<rect x="456" y="351" width="1" height="11"/>
<rect x="456" y="365" width="1" height="11"/>
<rect x="456" y="379" width="1" height="9"/>
<rect x="99" y="387" width="240" height="2"/>
<rect x="462" y="387" width="7" height="2"/>
<rect x="486" y="387" width="15" height="2"/>
<rect x="426" y="120" width="4" height="11"/>
<rect x="425" y="128" width="6" height="5"/>
<rect x="415" y="128" width="4" height="2"/>
<rect x="415" y="130" width="1" height="1"/>
<rect x="418" y="130" width="1" height="1"/>
<rect x="428" y="142" width="3.5" height="2.5"/>
<rect x="460" y="120" width="3" height="3"/>
<rect x="460" y="124" width="3" height="3"/>
<rect x="461" y="126" width="4" height="3"/>
<rect x="461" y="132" width="3" height="2"/>
<rect x="458" y="133" width="2" height="4"/>
<rect x="460" y="134" width="5" height="8"/>
</g>
<path d="M329.5 99.6 L330.4 109 L331.75 118.4 L333.25 127.8 L335.1 137.1 L337.4 146.5 L339.8 153.1 L342.6 158.7 L346.4 163.8 L351.1 167.5 L354.8 169.4 L359.5 171.3 L365.2 172.8 L372 173.8 L382.5 174.8 L393 175.2 L405.4 175 L408.5 174 L411 172 L413.5 166 L415 160 L416 154 L417.5 149" fill="none" stroke="#000" stroke-width="3.7" stroke-linejoin="round" stroke-linecap="butt" shape-rendering="crispEdges"/>
<path d="M430.5 148 L433 159 L435 166 L437 172 L438.5 172 L440 167 L444 162.5 L445.5 169 L448 172 L452 171.5 L455 169 L457 166 L458.5 159 L460.5 153 L463 148.5 L468 153 L471 155 L473.5 149 L475.5 143 L478 137 L480 133" fill="none" stroke="#000" stroke-width="3.9" stroke-linejoin="round" stroke-linecap="butt" shape-rendering="crispEdges"/>
<polygon points="489.5,99 496.5,99 496.5,103 494.5,110 488.5,110 488.5,104" fill="#000" shape-rendering="crispEdges"/>
<ellipse cx="487" cy="116.5" rx="5.2" ry="5.8" fill="#000" shape-rendering="crispEdges"/>
<rect x="485.6" y="115.6" width="1.9" height="1.4" fill="#fff"/>
<polygon points="481.5,122 490,122 489.5,128 487,132 484,140 476,142 475.5,140 477.5,133 480.5,128" fill="#000" shape-rendering="crispEdges"/>
<polygon points="423,133.5 431,133.5 431,139.5 427,145 425,152 419,152 421,145 423,139" fill="#000" shape-rendering="crispEdges"/>
<polygon points="416,138 420,138 420,144 422,152 421,160 412,160 415,152 415,144" fill="#000" shape-rendering="crispEdges"/>
<polygon points="429,147 432,147 436,160 431,160" fill="#000" shape-rendering="crispEdges"/>
<rect x="421.5" y="141" width="1" height="1.5" fill="#fff"/>
<rect x="418" y="146" width="1" height="1" fill="#fff"/>
<rect x="423" y="147.5" width="1" height="1" fill="#fff"/>
<rect x="417" y="153" width="1.5" height="1" fill="#fff"/>
<rect x="428.5" y="136" width="1" height="1" fill="#fff"/>
<rect x="336" y="368" width="129" height="3" fill="#00ff00"/>
<rect x="466" y="368" width="23" height="3" fill="#00ff00"/>
<path transform="scale(1.12,1)" d="M96.14 44.35 L95.55 43.15 L94.43 42.77 L93.32 42.77 L92.2 43.15 L91.83 43.91 L92.2 44.67 L92.95 45.05 L94.81 45.43 L95.55 45.81 L95.92 46.58 L95.92 46.96 L95.55 47.72 L94.43 48.1 L93.32 48.1 L92.2 47.72 L91.62 46.52 M102.62 42.27 L102.62 48.86 L102.25 50.01 L101.88 50.39 L101.13 50.77 L100.02 50.77 L98.87 50.18 M102.95 44.25 L101.88 43.15 L101.13 42.77 L100.02 42.77 L99.27 43.15 L98.53 43.91 L98.16 45.05 L98.16 45.81 L98.53 46.96 L99.27 47.72 L100.02 48.1 L101.13 48.1 L101.88 47.72 L102.95 46.62 M105.6 42.27 L105.6 51.27 M105.27 44.25 L106.34 43.15 L107.08 42.77 L108.2 42.77 L108.94 43.15 L109.69 43.91 L110.06 45.05 L110.06 45.81 L109.69 46.96 L108.94 47.72 L108.2 48.1 L107.08 48.1 L106.34 47.72 L105.27 46.62 M118.09 42.44 L117.5 41.24 L116.76 40.48 L116.01 40.1 L114.53 40.1 L113.78 40.48 L113.04 41.24 L112.67 42 L112.29 43.15 L112.29 45.05 L112.67 46.2 L113.04 46.96 L113.78 47.72 L114.53 48.1 L116.01 48.1 L116.76 47.72 L117.5 46.96 L118.09 45.76 M120.82 41.83 L121.97 41.24 L123.08 40.1 L123.08 48.6" fill="none" stroke="#000" stroke-width="1.8" stroke-linecap="butt" stroke-linejoin="round" shape-rendering="crispEdges"/>
<path transform="scale(1.7,1)" d="M153.15 38.43 L153.15 50.45 M152.85 38.93 L155.31 38.93 L156.24 39.45 L156.85 40.5 L157.16 41.55 L157.47 43.12 L157.47 45.75 L157.16 47.33 L156.85 48.38 L156.24 49.43 L155.31 49.95 L152.85 49.95 M159.32 38.93 L159.63 39.45 L159.94 38.93 L159.63 38.4 L159.32 38.93 Z M159.63 42.1 L159.63 50.45 M164.25 38.93 L163.34 38.93 L162.72 39.45 L162.41 41.03 L162.41 50.45 M161.19 42.6 L163.94 42.6 M170.03 40.85 L169.21 39.45 L168.28 38.93 L167.04 38.93 L166.12 39.45 L165.5 40.5 L165.5 41.55 L165.81 42.6 L166.12 43.12 L166.74 43.65 L168.59 44.7 L169.21 45.23 L169.51 45.75 L169.82 46.8 L169.82 48.38 L169.21 49.43 L168.28 49.95 L167.04 49.95 L166.12 49.43 L165.29 48.02 M171.3 38.44 L172.98 50.44 M174.52 38.44 L172.84 50.44 M174.39 38.44 L176.07 50.44 M177.61 38.44 L175.93 50.44 M184.48 36.39 L178.64 54.06 M190.65 42 L190.21 40.5 L189.59 39.45 L188.97 38.93 L187.74 38.93 L187.12 39.45 L186.5 40.5 L186.19 41.55 L185.88 43.12 L185.88 45.75 L186.19 47.33 L186.5 48.38 L187.12 49.43 L187.74 49.95 L188.97 49.95 L189.59 49.43 L190.21 48.38 L190.51 47.33 L190.51 45.25 M188.68 45.75 L190.81 45.75 M196.9 40.85 L196.07 39.45 L195.15 38.93 L193.91 38.93 L192.99 39.45 L192.37 40.5 L192.37 41.55 L192.68 42.6 L192.99 43.12 L193.6 43.65 L195.46 44.7 L196.07 45.23 L196.38 45.75 L196.69 46.8 L196.69 48.38 L196.07 49.43 L195.15 49.95 L193.91 49.95 L192.99 49.43 L192.16 48.02 M198.17 38.44 L199.85 50.44 M201.39 38.44 L199.71 50.44 M201.26 38.44 L202.94 50.44 M204.48 38.44 L202.8 50.44" fill="none" stroke="#000" stroke-width="1.3" stroke-linecap="butt" stroke-linejoin="round" shape-rendering="crispEdges"/>
<path transform="scale(1.12,1)" d="M390.53 42.4 L390.53 41.52 L390.9 40.76 L391.28 40.38 L392.02 40 L393.51 40 L394.25 40.38 L394.62 40.76 L395 41.52 L395 42.28 L394.62 43.05 L393.88 44.19 L390.16 48 L395.81 48 M399.83 40 L398.72 40.38 L397.97 41.52 L397.6 43.43 L397.6 44.57 L397.97 46.48 L398.72 47.62 L399.83 48 L400.58 48 L401.69 47.62 L402.44 46.48 L402.81 44.57 L402.81 43.43 L402.44 41.52 L401.69 40.38 L400.58 40 L399.83 40 Z M407.27 40 L406.16 40.38 L405.41 41.52 L405.04 43.43 L405.04 44.57 L405.41 46.48 L406.16 47.62 L407.27 48 L408.02 48 L409.13 47.62 L409.88 46.48 L410.25 44.57 L410.25 43.43 L409.88 41.52 L409.13 40.38 L408.02 40 L407.27 40 Z M414.34 40 L413.23 40.38 L412.85 41.14 L412.85 41.9 L413.23 42.67 L413.97 43.05 L415.46 43.43 L416.57 43.81 L417.32 44.57 L417.69 45.33 L417.69 46.48 L417.32 47.24 L416.95 47.62 L415.83 48 L414.34 48 L413.23 47.62 L412.85 47.24 L412.48 46.48 L412.48 45.33 L412.85 44.57 L413.6 43.81 L414.71 43.43 L416.2 43.05 L416.95 42.67 L417.32 41.9 L417.32 41.14 L416.95 40.38 L415.83 40 L414.34 40 Z M420.63 41.73 L421.78 41.14 L422.9 40 L422.9 48.5 M427.74 42.4 L427.74 41.52 L428.11 40.76 L428.48 40.38 L429.22 40 L430.71 40 L431.46 40.38 L431.83 40.76 L432.2 41.52 L432.2 42.28 L431.83 43.05 L431.08 44.19 L427.36 48 L433.02 48 M437.04 40 L435.92 40.38 L435.18 41.52 L434.81 43.43 L434.81 44.57 L435.18 46.48 L435.92 47.62 L437.04 48 L437.78 48 L438.9 47.62 L439.64 46.48 L440.01 44.57 L440.01 43.43 L439.64 41.52 L438.9 40.38 L437.78 40 L437.04 40 Z M447.66 39.56 L443.53 48.44 M441.8 40 L447.9 40" fill="none" stroke="#000" stroke-width="1.8" stroke-linecap="butt" stroke-linejoin="round" shape-rendering="crispEdges"/>
<path transform="scale(1.12,1)" d="M67.87 64.43 L69.02 63.84 L70.13 62.7 L70.13 71.2 M75.34 70.43 L74.97 70.81 L75.34 71.2 L75.71 70.81 L75.34 70.43 Z M82.31 62.3 L78.32 68.03 L84.35 68.03 M82.04 62.2 L82.04 71.2" fill="none" stroke="#000" stroke-width="1.8" stroke-linecap="butt" stroke-linejoin="round" shape-rendering="crispEdges"/>
<path transform="scale(1.12,1)" d="M67.87 82.43 L69.02 81.84 L70.13 80.7 L70.13 89.2 M75.34 88.43 L74.97 88.81 L75.34 89.2 L75.71 88.81 L75.34 88.43 Z M78.69 83.1 L78.69 82.22 L79.06 81.46 L79.43 81.08 L80.18 80.7 L81.67 80.7 L82.41 81.08 L82.78 81.46 L83.15 82.22 L83.15 82.98 L82.78 83.75 L82.04 84.89 L78.32 88.7 L83.97 88.7" fill="none" stroke="#000" stroke-width="1.8" stroke-linecap="butt" stroke-linejoin="round" shape-rendering="crispEdges"/>
<path transform="scale(1.12,1)" d="M67.87 99.43 L69.02 98.84 L70.13 97.7 L70.13 106.2 M75.34 105.43 L74.97 105.81 L75.34 106.2 L75.71 105.81 L75.34 105.43 Z M80.55 97.7 L79.43 98.08 L78.69 99.22 L78.32 101.13 L78.32 102.27 L78.69 104.18 L79.43 105.32 L80.55 105.7 L81.29 105.7 L82.41 105.32 L83.15 104.18 L83.53 102.27 L83.53 101.13 L83.15 99.22 L82.41 98.08 L81.29 97.7 L80.55 97.7 Z" fill="none" stroke="#000" stroke-width="1.8" stroke-linecap="butt" stroke-linejoin="round" shape-rendering="crispEdges"/>
<path transform="scale(1.12,1)" d="M69.39 114.7 L68.27 115.08 L67.53 116.22 L67.16 118.13 L67.16 119.27 L67.53 121.18 L68.27 122.32 L69.39 122.7 L70.13 122.7 L71.25 122.32 L71.99 121.18 L72.37 119.27 L72.37 118.13 L71.99 116.22 L71.25 115.08 L70.13 114.7 L69.39 114.7 Z M75.34 122.43 L74.97 122.81 L75.34 123.2 L75.71 122.81 L75.34 122.43 Z M80.18 114.7 L79.06 115.08 L78.69 115.84 L78.69 116.6 L79.06 117.37 L79.81 117.75 L81.29 118.13 L82.41 118.51 L83.15 119.27 L83.53 120.03 L83.53 121.18 L83.15 121.94 L82.78 122.32 L81.67 122.7 L80.18 122.7 L79.06 122.32 L78.69 121.94 L78.32 121.18 L78.32 120.03 L78.69 119.27 L79.43 118.51 L80.55 118.13 L82.04 117.75 L82.78 117.37 L83.15 116.6 L83.15 115.84 L82.78 115.08 L81.67 114.7 L80.18 114.7 Z" fill="none" stroke="#000" stroke-width="1.8" stroke-linecap="butt" stroke-linejoin="round" shape-rendering="crispEdges"/>
<path transform="scale(1.12,1)" d="M69.39 131.7 L68.27 132.08 L67.53 133.22 L67.16 135.13 L67.16 136.27 L67.53 138.18 L68.27 139.32 L69.39 139.7 L70.13 139.7 L71.25 139.32 L71.99 138.18 L72.37 136.27 L72.37 135.13 L71.99 133.22 L71.25 132.08 L70.13 131.7 L69.39 131.7 Z M75.34 139.43 L74.97 139.81 L75.34 140.2 L75.71 139.81 L75.34 139.43 Z M83.37 133.28 L82.78 132.08 L81.67 131.7 L80.92 131.7 L79.81 132.08 L79.06 133.22 L78.69 135.13 L78.69 137.03 L79.06 138.56 L79.81 139.32 L80.92 139.7 L81.29 139.7 L82.41 139.32 L83.15 138.56 L83.53 137.41 L83.53 137.03 L83.15 135.89 L82.41 135.13 L81.29 134.75 L80.92 134.75 L79.81 135.13 L79.06 135.89 L78.54 137.5" fill="none" stroke="#000" stroke-width="1.8" stroke-linecap="butt" stroke-linejoin="round" shape-rendering="crispEdges"/>
<path transform="scale(1.12,1)" d="M69.39 149.7 L68.27 150.08 L67.53 151.22 L67.16 153.13 L67.16 154.27 L67.53 156.18 L68.27 157.32 L69.39 157.7 L70.13 157.7 L71.25 157.32 L71.99 156.18 L72.37 154.27 L72.37 153.13 L71.99 151.22 L71.25 150.08 L70.13 149.7 L69.39 149.7 Z M75.34 157.43 L74.97 157.81 L75.34 158.2 L75.71 157.81 L75.34 157.43 Z M82.31 149.3 L78.32 155.03 L84.35 155.03 M82.04 149.2 L82.04 158.2" fill="none" stroke="#000" stroke-width="1.8" stroke-linecap="butt" stroke-linejoin="round" shape-rendering="crispEdges"/>
<path transform="scale(1.12,1)" d="M69.39 166.7 L68.27 167.08 L67.53 168.22 L67.16 170.13 L67.16 171.27 L67.53 173.18 L68.27 174.32 L69.39 174.7 L70.13 174.7 L71.25 174.32 L71.99 173.18 L72.37 171.27 L72.37 170.13 L71.99 168.22 L71.25 167.08 L70.13 166.7 L69.39 166.7 Z M75.34 174.43 L74.97 174.81 L75.34 175.2 L75.71 174.81 L75.34 174.43 Z M78.69 169.1 L78.69 168.22 L79.06 167.46 L79.43 167.08 L80.18 166.7 L81.67 166.7 L82.41 167.08 L82.78 167.46 L83.15 168.22 L83.15 168.98 L82.78 169.75 L82.04 170.89 L78.32 174.7 L83.97 174.7" fill="none" stroke="#000" stroke-width="1.8" stroke-linecap="butt" stroke-linejoin="round" shape-rendering="crispEdges"/>
<path transform="scale(1.12,1)" d="M69.39 179 L68.27 179.38 L67.53 180.52 L67.16 182.43 L67.16 183.57 L67.53 185.48 L68.27 186.62 L69.39 187 L70.13 187 L71.25 186.62 L71.99 185.48 L72.37 183.57 L72.37 182.43 L71.99 180.52 L71.25 179.38 L70.13 179 L69.39 179 Z M75.34 186.73 L74.97 187.11 L75.34 187.5 L75.71 187.11 L75.34 186.73 Z M80.55 179 L79.43 179.38 L78.69 180.52 L78.32 182.43 L78.32 183.57 L78.69 185.48 L79.43 186.62 L80.55 187 L81.29 187 L82.41 186.62 L83.15 185.48 L83.53 183.57 L83.53 182.43 L83.15 180.52 L82.41 179.38 L81.29 179 L80.55 179 Z" fill="none" stroke="#000" stroke-width="1.8" stroke-linecap="butt" stroke-linejoin="round" shape-rendering="crispEdges"/>
<path transform="scale(1.12,1)" d="M76.41 197.1 L75.3 197.48 L74.55 198.62 L74.18 200.53 L74.18 201.67 L74.55 203.58 L75.3 204.72 L76.41 205.1 L77.16 205.1 L78.27 204.72 L79.02 203.58 L79.39 201.67 L79.39 200.53 L79.02 198.62 L78.27 197.48 L77.16 197.1 L76.41 197.1 Z M83.85 197.1 L82.74 197.48 L81.99 198.62 L81.62 200.53 L81.62 201.67 L81.99 203.58 L82.74 204.72 L83.85 205.1 L84.6 205.1 L85.71 204.72 L86.46 203.58 L86.83 201.67 L86.83 200.53 L86.46 198.62 L85.71 197.48 L84.6 197.1 L83.85 197.1 Z M91.29 197.1 L90.18 197.48 L89.43 198.62 L89.06 200.53 L89.06 201.67 L89.43 203.58 L90.18 204.72 L91.29 205.1 L92.04 205.1 L93.16 204.72 L93.9 203.58 L94.27 201.67 L94.27 200.53 L93.9 198.62 L93.16 197.48 L92.04 197.1 L91.29 197.1 Z M98.74 197.1 L97.62 197.48 L96.88 198.62 L96.5 200.53 L96.5 201.67 L96.88 203.58 L97.62 204.72 L98.74 205.1 L99.48 205.1 L100.6 204.72 L101.34 203.58 L101.71 201.67 L101.71 200.53 L101.34 198.62 L100.6 197.48 L99.48 197.1 L98.74 197.1 Z" fill="none" stroke="#000" stroke-width="1.8" stroke-linecap="butt" stroke-linejoin="round" shape-rendering="crispEdges"/>
<path transform="scale(1.12,1)" d="M76.41 398.6 L75.3 398.98 L74.55 400.12 L74.18 402.03 L74.18 403.17 L74.55 405.08 L75.3 406.22 L76.41 406.6 L77.16 406.6 L78.27 406.22 L79.02 405.08 L79.39 403.17 L79.39 402.03 L79.02 400.12 L78.27 398.98 L77.16 398.6 L76.41 398.6 Z M83.85 398.6 L82.74 398.98 L81.99 400.12 L81.62 402.03 L81.62 403.17 L81.99 405.08 L82.74 406.22 L83.85 406.6 L84.6 406.6 L85.71 406.22 L86.46 405.08 L86.83 403.17 L86.83 402.03 L86.46 400.12 L85.71 398.98 L84.6 398.6 L83.85 398.6 Z M91.29 398.6 L90.18 398.98 L89.43 400.12 L89.06 402.03 L89.06 403.17 L89.43 405.08 L90.18 406.22 L91.29 406.6 L92.04 406.6 L93.16 406.22 L93.9 405.08 L94.27 403.17 L94.27 402.03 L93.9 400.12 L93.16 398.98 L92.04 398.6 L91.29 398.6 Z M98.74 398.6 L97.62 398.98 L96.88 400.12 L96.5 402.03 L96.5 403.17 L96.88 405.08 L97.62 406.22 L98.74 406.6 L99.48 406.6 L100.6 406.22 L101.34 405.08 L101.71 403.17 L101.71 402.03 L101.34 400.12 L100.6 398.98 L99.48 398.6 L98.74 398.6 Z" fill="none" stroke="#000" stroke-width="1.8" stroke-linecap="butt" stroke-linejoin="round" shape-rendering="crispEdges"/>
<path transform="scale(1.12,1)" d="M121.95 197.1 L120.83 197.48 L120.09 198.62 L119.72 200.53 L119.72 201.67 L120.09 203.58 L120.83 204.72 L121.95 205.1 L122.69 205.1 L123.81 204.72 L124.55 203.58 L124.92 201.67 L124.92 200.53 L124.55 198.62 L123.81 197.48 L122.69 197.1 L121.95 197.1 Z M127.45 197.1 L131.99 197.1 L129.76 200.15 L130.88 200.15 L131.62 200.53 L131.99 200.91 L132.37 202.05 L132.37 202.81 L131.99 203.96 L131.25 204.72 L130.13 205.1 L129.02 205.1 L127.9 204.72 L127.53 204.34 L126.94 203.14 M136.83 197.1 L135.71 197.48 L134.97 198.62 L134.6 200.53 L134.6 201.67 L134.97 203.58 L135.71 204.72 L136.83 205.1 L137.57 205.1 L138.69 204.72 L139.44 203.58 L139.81 201.67 L139.81 200.53 L139.44 198.62 L138.69 197.48 L137.57 197.1 L136.83 197.1 Z M144.27 197.1 L143.16 197.48 L142.41 198.62 L142.04 200.53 L142.04 201.67 L142.41 203.58 L143.16 204.72 L144.27 205.1 L145.02 205.1 L146.13 204.72 L146.88 203.58 L147.25 201.67 L147.25 200.53 L146.88 198.62 L146.13 197.48 L145.02 197.1 L144.27 197.1 Z" fill="none" stroke="#000" stroke-width="1.8" stroke-linecap="butt" stroke-linejoin="round" shape-rendering="crispEdges"/>
<path transform="scale(1.12,1)" d="M121.95 398.6 L120.83 398.98 L120.09 400.12 L119.72 402.03 L119.72 403.17 L120.09 405.08 L120.83 406.22 L121.95 406.6 L122.69 406.6 L123.81 406.22 L124.55 405.08 L124.92 403.17 L124.92 402.03 L124.55 400.12 L123.81 398.98 L122.69 398.6 L121.95 398.6 Z M127.45 398.6 L131.99 398.6 L129.76 401.65 L130.88 401.65 L131.62 402.03 L131.99 402.41 L132.37 403.55 L132.37 404.31 L131.99 405.46 L131.25 406.22 L130.13 406.6 L129.02 406.6 L127.9 406.22 L127.53 405.84 L126.94 404.64 M136.83 398.6 L135.71 398.98 L134.97 400.12 L134.6 402.03 L134.6 403.17 L134.97 405.08 L135.71 406.22 L136.83 406.6 L137.57 406.6 L138.69 406.22 L139.44 405.08 L139.81 403.17 L139.81 402.03 L139.44 400.12 L138.69 398.98 L137.57 398.6 L136.83 398.6 Z M144.27 398.6 L143.16 398.98 L142.41 400.12 L142.04 402.03 L142.04 403.17 L142.41 405.08 L143.16 406.22 L144.27 406.6 L145.02 406.6 L146.13 406.22 L146.88 405.08 L147.25 403.17 L147.25 402.03 L146.88 400.12 L146.13 398.98 L145.02 398.6 L144.27 398.6 Z" fill="none" stroke="#000" stroke-width="1.8" stroke-linecap="butt" stroke-linejoin="round" shape-rendering="crispEdges"/>
<path transform="scale(1.12,1)" d="M167.48 197.1 L166.37 197.48 L165.62 198.62 L165.25 200.53 L165.25 201.67 L165.62 203.58 L166.37 204.72 L167.48 205.1 L168.23 205.1 L169.34 204.72 L170.09 203.58 L170.46 201.67 L170.46 200.53 L170.09 198.62 L169.34 197.48 L168.23 197.1 L167.48 197.1 Z M177.74 198.68 L177.16 197.48 L176.04 197.1 L175.3 197.1 L174.18 197.48 L173.44 198.62 L173.06 200.53 L173.06 202.43 L173.44 203.96 L174.18 204.72 L175.3 205.1 L175.67 205.1 L176.79 204.72 L177.53 203.96 L177.9 202.81 L177.9 202.43 L177.53 201.29 L176.79 200.53 L175.67 200.15 L175.3 200.15 L174.18 200.53 L173.44 201.29 L172.91 202.9 M182.37 197.1 L181.25 197.48 L180.51 198.62 L180.13 200.53 L180.13 201.67 L180.51 203.58 L181.25 204.72 L182.37 205.1 L183.11 205.1 L184.23 204.72 L184.97 203.58 L185.34 201.67 L185.34 200.53 L184.97 198.62 L184.23 197.48 L183.11 197.1 L182.37 197.1 Z M189.81 197.1 L188.69 197.48 L187.95 198.62 L187.58 200.53 L187.58 201.67 L187.95 203.58 L188.69 204.72 L189.81 205.1 L190.55 205.1 L191.67 204.72 L192.41 203.58 L192.78 201.67 L192.78 200.53 L192.41 198.62 L191.67 197.48 L190.55 197.1 L189.81 197.1 Z" fill="none" stroke="#000" stroke-width="1.8" stroke-linecap="butt" stroke-linejoin="round" shape-rendering="crispEdges"/>
<path transform="scale(1.12,1)" d="M167.48 398.6 L166.37 398.98 L165.62 400.12 L165.25 402.03 L165.25 403.17 L165.62 405.08 L166.37 406.22 L167.48 406.6 L168.23 406.6 L169.34 406.22 L170.09 405.08 L170.46 403.17 L170.46 402.03 L170.09 400.12 L169.34 398.98 L168.23 398.6 L167.48 398.6 Z M177.74 400.18 L177.16 398.98 L176.04 398.6 L175.3 398.6 L174.18 398.98 L173.44 400.12 L173.06 402.03 L173.06 403.93 L173.44 405.46 L174.18 406.22 L175.3 406.6 L175.67 406.6 L176.79 406.22 L177.53 405.46 L177.9 404.31 L177.9 403.93 L177.53 402.79 L176.79 402.03 L175.67 401.65 L175.3 401.65 L174.18 402.03 L173.44 402.79 L172.91 404.4 M182.37 398.6 L181.25 398.98 L180.51 400.12 L180.13 402.03 L180.13 403.17 L180.51 405.08 L181.25 406.22 L182.37 406.6 L183.11 406.6 L184.23 406.22 L184.97 405.08 L185.34 403.17 L185.34 402.03 L184.97 400.12 L184.23 398.98 L183.11 398.6 L182.37 398.6 Z M189.81 398.6 L188.69 398.98 L187.95 400.12 L187.58 402.03 L187.58 403.17 L187.95 405.08 L188.69 406.22 L189.81 406.6 L190.55 406.6 L191.67 406.22 L192.41 405.08 L192.78 403.17 L192.78 402.03 L192.41 400.12 L191.67 398.98 L190.55 398.6 L189.81 398.6 Z" fill="none" stroke="#000" stroke-width="1.8" stroke-linecap="butt" stroke-linejoin="round" shape-rendering="crispEdges"/>
<path transform="scale(1.12,1)" d="M213.02 197.1 L211.9 197.48 L211.16 198.62 L210.79 200.53 L210.79 201.67 L211.16 203.58 L211.9 204.72 L213.02 205.1 L213.76 205.1 L214.88 204.72 L215.62 203.58 L216 201.67 L216 200.53 L215.62 198.62 L214.88 197.48 L213.76 197.1 L213.02 197.1 Z M223.22 199.3 L222.69 200.91 L221.95 201.67 L220.83 202.05 L220.46 202.05 L219.34 201.67 L218.6 200.91 L218.23 199.77 L218.23 199.38 L218.6 198.24 L219.34 197.48 L220.46 197.1 L220.83 197.1 L221.95 197.48 L222.69 198.24 L223.07 199.77 L223.07 201.67 L222.69 203.58 L221.95 204.72 L220.83 205.1 L220.09 205.1 L218.97 204.72 L218.39 203.52 M227.9 197.1 L226.79 197.48 L226.04 198.62 L225.67 200.53 L225.67 201.67 L226.04 203.58 L226.79 204.72 L227.9 205.1 L228.65 205.1 L229.76 204.72 L230.51 203.58 L230.88 201.67 L230.88 200.53 L230.51 198.62 L229.76 197.48 L228.65 197.1 L227.9 197.1 Z M235.34 197.1 L234.23 197.48 L233.48 198.62 L233.11 200.53 L233.11 201.67 L233.48 203.58 L234.23 204.72 L235.34 205.1 L236.09 205.1 L237.2 204.72 L237.95 203.58 L238.32 201.67 L238.32 200.53 L237.95 198.62 L237.2 197.48 L236.09 197.1 L235.34 197.1 Z" fill="none" stroke="#000" stroke-width="1.8" stroke-linecap="butt" stroke-linejoin="round" shape-rendering="crispEdges"/>
<path transform="scale(1.12,1)" d="M213.02 398.6 L211.9 398.98 L211.16 400.12 L210.79 402.03 L210.79 403.17 L211.16 405.08 L211.9 406.22 L213.02 406.6 L213.76 406.6 L214.88 406.22 L215.62 405.08 L216 403.17 L216 402.03 L215.62 400.12 L214.88 398.98 L213.76 398.6 L213.02 398.6 Z M223.22 400.8 L222.69 402.41 L221.95 403.17 L220.83 403.55 L220.46 403.55 L219.34 403.17 L218.6 402.41 L218.23 401.27 L218.23 400.89 L218.6 399.74 L219.34 398.98 L220.46 398.6 L220.83 398.6 L221.95 398.98 L222.69 399.74 L223.07 401.27 L223.07 403.17 L222.69 405.08 L221.95 406.22 L220.83 406.6 L220.09 406.6 L218.97 406.22 L218.39 405.02 M227.9 398.6 L226.79 398.98 L226.04 400.12 L225.67 402.03 L225.67 403.17 L226.04 405.08 L226.79 406.22 L227.9 406.6 L228.65 406.6 L229.76 406.22 L230.51 405.08 L230.88 403.17 L230.88 402.03 L230.51 400.12 L229.76 398.98 L228.65 398.6 L227.9 398.6 Z M235.34 398.6 L234.23 398.98 L233.48 400.12 L233.11 402.03 L233.11 403.17 L233.48 405.08 L234.23 406.22 L235.34 406.6 L236.09 406.6 L237.2 406.22 L237.95 405.08 L238.32 403.17 L238.32 402.03 L237.95 400.12 L237.2 398.98 L236.09 398.6 L235.34 398.6 Z" fill="none" stroke="#000" stroke-width="1.8" stroke-linecap="butt" stroke-linejoin="round" shape-rendering="crispEdges"/>
<path transform="scale(1.12,1)" d="M257.03 198.83 L258.18 198.24 L259.3 197.1 L259.3 205.6 M264.14 199.5 L264.14 198.62 L264.51 197.86 L264.88 197.48 L265.62 197.1 L267.11 197.1 L267.86 197.48 L268.23 197.86 L268.6 198.62 L268.6 199.38 L268.23 200.15 L267.48 201.29 L263.76 205.1 L269.42 205.1 M273.44 197.1 L272.32 197.48 L271.58 198.62 L271.21 200.53 L271.21 201.67 L271.58 203.58 L272.32 204.72 L273.44 205.1 L274.18 205.1 L275.3 204.72 L276.04 203.58 L276.41 201.67 L276.41 200.53 L276.04 198.62 L275.3 197.48 L274.18 197.1 L273.44 197.1 Z M280.88 197.1 L279.76 197.48 L279.02 198.62 L278.65 200.53 L278.65 201.67 L279.02 203.58 L279.76 204.72 L280.88 205.1 L281.62 205.1 L282.74 204.72 L283.48 203.58 L283.86 201.67 L283.86 200.53 L283.48 198.62 L282.74 197.48 L281.62 197.1 L280.88 197.1 Z" fill="none" stroke="#000" stroke-width="1.8" stroke-linecap="butt" stroke-linejoin="round" shape-rendering="crispEdges"/>
<path transform="scale(1.12,1)" d="M257.03 400.33 L258.18 399.74 L259.3 398.6 L259.3 407.1 M264.14 401 L264.14 400.12 L264.51 399.36 L264.88 398.98 L265.62 398.6 L267.11 398.6 L267.86 398.98 L268.23 399.36 L268.6 400.12 L268.6 400.89 L268.23 401.65 L267.48 402.79 L263.76 406.6 L269.42 406.6 M273.44 398.6 L272.32 398.98 L271.58 400.12 L271.21 402.03 L271.21 403.17 L271.58 405.08 L272.32 406.22 L273.44 406.6 L274.18 406.6 L275.3 406.22 L276.04 405.08 L276.41 403.17 L276.41 402.03 L276.04 400.12 L275.3 398.98 L274.18 398.6 L273.44 398.6 Z M280.88 398.6 L279.76 398.98 L279.02 400.12 L278.65 402.03 L278.65 403.17 L279.02 405.08 L279.76 406.22 L280.88 406.6 L281.62 406.6 L282.74 406.22 L283.48 405.08 L283.86 403.17 L283.86 402.03 L283.48 400.12 L282.74 398.98 L281.62 398.6 L280.88 398.6 Z" fill="none" stroke="#000" stroke-width="1.8" stroke-linecap="butt" stroke-linejoin="round" shape-rendering="crispEdges"/>
<path transform="scale(1.12,1)" d="M302.57 198.83 L303.72 198.24 L304.84 197.1 L304.84 205.6 M314.21 197.1 L310.04 197.1 L309.67 200.53 L310.04 200.15 L311.16 199.77 L312.28 199.77 L313.39 200.15 L314.14 200.91 L314.51 202.05 L314.51 202.81 L314.14 203.96 L313.39 204.72 L312.28 205.1 L311.16 205.1 L310.04 204.72 L309.67 204.34 L309.09 203.14 M318.97 197.1 L317.86 197.48 L317.11 198.62 L316.74 200.53 L316.74 201.67 L317.11 203.58 L317.86 204.72 L318.97 205.1 L319.72 205.1 L320.83 204.72 L321.58 203.58 L321.95 201.67 L321.95 200.53 L321.58 198.62 L320.83 197.48 L319.72 197.1 L318.97 197.1 Z M326.41 197.1 L325.3 197.48 L324.55 198.62 L324.18 200.53 L324.18 201.67 L324.55 203.58 L325.3 204.72 L326.41 205.1 L327.16 205.1 L328.27 204.72 L329.02 203.58 L329.39 201.67 L329.39 200.53 L329.02 198.62 L328.27 197.48 L327.16 197.1 L326.41 197.1 Z" fill="none" stroke="#000" stroke-width="1.8" stroke-linecap="butt" stroke-linejoin="round" shape-rendering="crispEdges"/>
<path transform="scale(1.12,1)" d="M302.57 400.33 L303.72 399.74 L304.84 398.6 L304.84 407.1 M314.21 398.6 L310.04 398.6 L309.67 402.03 L310.04 401.65 L311.16 401.27 L312.28 401.27 L313.39 401.65 L314.14 402.41 L314.51 403.55 L314.51 404.31 L314.14 405.46 L313.39 406.22 L312.28 406.6 L311.16 406.6 L310.04 406.22 L309.67 405.84 L309.09 404.64 M318.97 398.6 L317.86 398.98 L317.11 400.12 L316.74 402.03 L316.74 403.17 L317.11 405.08 L317.86 406.22 L318.97 406.6 L319.72 406.6 L320.83 406.22 L321.58 405.08 L321.95 403.17 L321.95 402.03 L321.58 400.12 L320.83 398.98 L319.72 398.6 L318.97 398.6 Z M326.41 398.6 L325.3 398.98 L324.55 400.12 L324.18 402.03 L324.18 403.17 L324.55 405.08 L325.3 406.22 L326.41 406.6 L327.16 406.6 L328.27 406.22 L329.02 405.08 L329.39 403.17 L329.39 402.03 L329.02 400.12 L328.27 398.98 L327.16 398.6 L326.41 398.6 Z" fill="none" stroke="#000" stroke-width="1.8" stroke-linecap="butt" stroke-linejoin="round" shape-rendering="crispEdges"/>
<path transform="scale(1.12,1)" d="M348.1 198.83 L349.25 198.24 L350.37 197.1 L350.37 205.6 M356.7 197.1 L355.58 197.48 L355.21 198.24 L355.21 199 L355.58 199.77 L356.32 200.15 L357.81 200.53 L358.93 200.91 L359.67 201.67 L360.04 202.43 L360.04 203.58 L359.67 204.34 L359.3 204.72 L358.18 205.1 L356.7 205.1 L355.58 204.72 L355.21 204.34 L354.84 203.58 L354.84 202.43 L355.21 201.67 L355.95 200.91 L357.07 200.53 L358.56 200.15 L359.3 199.77 L359.67 199 L359.67 198.24 L359.3 197.48 L358.18 197.1 L356.7 197.1 Z M364.51 197.1 L363.39 197.48 L362.65 198.62 L362.28 200.53 L362.28 201.67 L362.65 203.58 L363.39 204.72 L364.51 205.1 L365.25 205.1 L366.37 204.72 L367.11 203.58 L367.49 201.67 L367.49 200.53 L367.11 198.62 L366.37 197.48 L365.25 197.1 L364.51 197.1 Z M371.95 197.1 L370.83 197.48 L370.09 198.62 L369.72 200.53 L369.72 201.67 L370.09 203.58 L370.83 204.72 L371.95 205.1 L372.69 205.1 L373.81 204.72 L374.55 203.58 L374.93 201.67 L374.93 200.53 L374.55 198.62 L373.81 197.48 L372.69 197.1 L371.95 197.1 Z" fill="none" stroke="#000" stroke-width="1.8" stroke-linecap="butt" stroke-linejoin="round" shape-rendering="crispEdges"/>
<path transform="scale(1.12,1)" d="M348.1 400.33 L349.25 399.74 L350.37 398.6 L350.37 407.1 M356.7 398.6 L355.58 398.98 L355.21 399.74 L355.21 400.5 L355.58 401.27 L356.32 401.65 L357.81 402.03 L358.93 402.41 L359.67 403.17 L360.04 403.93 L360.04 405.08 L359.67 405.84 L359.3 406.22 L358.18 406.6 L356.7 406.6 L355.58 406.22 L355.21 405.84 L354.84 405.08 L354.84 403.93 L355.21 403.17 L355.95 402.41 L357.07 402.03 L358.56 401.65 L359.3 401.27 L359.67 400.5 L359.67 399.74 L359.3 398.98 L358.18 398.6 L356.7 398.6 Z M364.51 398.6 L363.39 398.98 L362.65 400.12 L362.28 402.03 L362.28 403.17 L362.65 405.08 L363.39 406.22 L364.51 406.6 L365.25 406.6 L366.37 406.22 L367.11 405.08 L367.49 403.17 L367.49 402.03 L367.11 400.12 L366.37 398.98 L365.25 398.6 L364.51 398.6 Z M371.95 398.6 L370.83 398.98 L370.09 400.12 L369.72 402.03 L369.72 403.17 L370.09 405.08 L370.83 406.22 L371.95 406.6 L372.69 406.6 L373.81 406.22 L374.55 405.08 L374.93 403.17 L374.93 402.03 L374.55 400.12 L373.81 398.98 L372.69 398.6 L371.95 398.6 Z" fill="none" stroke="#000" stroke-width="1.8" stroke-linecap="butt" stroke-linejoin="round" shape-rendering="crispEdges"/>
<path transform="scale(1.12,1)" d="M393.3 199.5 L393.3 198.62 L393.67 197.86 L394.05 197.48 L394.79 197.1 L396.28 197.1 L397.02 197.48 L397.4 197.86 L397.77 198.62 L397.77 199.38 L397.4 200.15 L396.65 201.29 L392.93 205.1 L398.59 205.1 M401.08 198.83 L402.23 198.24 L403.35 197.1 L403.35 205.6 M410.04 197.1 L408.93 197.48 L408.18 198.62 L407.81 200.53 L407.81 201.67 L408.18 203.58 L408.93 204.72 L410.04 205.1 L410.79 205.1 L411.91 204.72 L412.65 203.58 L413.02 201.67 L413.02 200.53 L412.65 198.62 L411.91 197.48 L410.79 197.1 L410.04 197.1 Z M417.49 197.1 L416.37 197.48 L415.63 198.62 L415.25 200.53 L415.25 201.67 L415.63 203.58 L416.37 204.72 L417.49 205.1 L418.23 205.1 L419.35 204.72 L420.09 203.58 L420.46 201.67 L420.46 200.53 L420.09 198.62 L419.35 197.48 L418.23 197.1 L417.49 197.1 Z" fill="none" stroke="#000" stroke-width="1.8" stroke-linecap="butt" stroke-linejoin="round" shape-rendering="crispEdges"/>
<path transform="scale(1.12,1)" d="M393.3 401 L393.3 400.12 L393.67 399.36 L394.05 398.98 L394.79 398.6 L396.28 398.6 L397.02 398.98 L397.4 399.36 L397.77 400.12 L397.77 400.89 L397.4 401.65 L396.65 402.79 L392.93 406.6 L398.59 406.6 M401.08 400.33 L402.23 399.74 L403.35 398.6 L403.35 407.1 M410.04 398.6 L408.93 398.98 L408.18 400.12 L407.81 402.03 L407.81 403.17 L408.18 405.08 L408.93 406.22 L410.04 406.6 L410.79 406.6 L411.91 406.22 L412.65 405.08 L413.02 403.17 L413.02 402.03 L412.65 400.12 L411.91 398.98 L410.79 398.6 L410.04 398.6 Z M417.49 398.6 L416.37 398.98 L415.63 400.12 L415.25 402.03 L415.25 403.17 L415.63 405.08 L416.37 406.22 L417.49 406.6 L418.23 406.6 L419.35 406.22 L420.09 405.08 L420.46 403.17 L420.46 402.03 L420.09 400.12 L419.35 398.98 L418.23 398.6 L417.49 398.6 Z" fill="none" stroke="#000" stroke-width="1.8" stroke-linecap="butt" stroke-linejoin="round" shape-rendering="crispEdges"/>
<path transform="scale(1.12,1)" d="M438.84 199.5 L438.84 198.62 L439.21 197.86 L439.58 197.48 L440.33 197.1 L441.81 197.1 L442.56 197.48 L442.93 197.86 L443.3 198.62 L443.3 199.38 L442.93 200.15 L442.19 201.29 L438.47 205.1 L444.12 205.1 M449.9 196.7 L445.91 202.43 L451.93 202.43 M449.63 196.6 L449.63 205.6 M455.58 197.1 L454.46 197.48 L453.72 198.62 L453.35 200.53 L453.35 201.67 L453.72 203.58 L454.46 204.72 L455.58 205.1 L456.32 205.1 L457.44 204.72 L458.18 203.58 L458.56 201.67 L458.56 200.53 L458.18 198.62 L457.44 197.48 L456.32 197.1 L455.58 197.1 Z M463.02 197.1 L461.91 197.48 L461.16 198.62 L460.79 200.53 L460.79 201.67 L461.16 203.58 L461.91 204.72 L463.02 205.1 L463.77 205.1 L464.88 204.72 L465.63 203.58 L466 201.67 L466 200.53 L465.63 198.62 L464.88 197.48 L463.77 197.1 L463.02 197.1 Z" fill="none" stroke="#000" stroke-width="1.8" stroke-linecap="butt" stroke-linejoin="round" shape-rendering="crispEdges"/>
<path transform="scale(1.12,1)" d="M438.84 401 L438.84 400.12 L439.21 399.36 L439.58 398.98 L440.33 398.6 L441.81 398.6 L442.56 398.98 L442.93 399.36 L443.3 400.12 L443.3 400.89 L442.93 401.65 L442.19 402.79 L438.47 406.6 L444.12 406.6 M449.9 398.2 L445.91 403.93 L451.93 403.93 M449.63 398.1 L449.63 407.1 M455.58 398.6 L454.46 398.98 L453.72 400.12 L453.35 402.03 L453.35 403.17 L453.72 405.08 L454.46 406.22 L455.58 406.6 L456.32 406.6 L457.44 406.22 L458.18 405.08 L458.56 403.17 L458.56 402.03 L458.18 400.12 L457.44 398.98 L456.32 398.6 L455.58 398.6 Z M463.02 398.6 L461.91 398.98 L461.16 400.12 L460.79 402.03 L460.79 403.17 L461.16 405.08 L461.91 406.22 L463.02 406.6 L463.77 406.6 L464.88 406.22 L465.63 405.08 L466 403.17 L466 402.03 L465.63 400.12 L464.88 398.98 L463.77 398.6 L463.02 398.6 Z" fill="none" stroke="#000" stroke-width="1.8" stroke-linecap="butt" stroke-linejoin="round" shape-rendering="crispEdges"/>
<path transform="scale(1.12,1)" d="M245.22 211.9 L245.22 220.9 M242.17 212.4 L248.27 212.4 M249.31 212.4 L249.69 212.78 L250.06 212.4 L249.69 212.02 L249.31 212.4 Z M249.69 214.57 L249.69 220.9 M252.66 214.57 L252.66 220.9 M252.33 216.93 L253.78 215.45 L254.52 215.07 L255.64 215.07 L256.38 215.45 L256.75 216.59 L256.75 220.9 M256.43 216.93 L257.87 215.45 L258.62 215.07 L259.73 215.07 L260.48 215.45 L260.85 216.59 L260.85 220.9 M263.01 217.35 L267.92 217.35 L267.92 216.59 L267.54 215.83 L267.17 215.45 L266.43 215.07 L265.31 215.07 L264.57 215.45 L263.82 216.21 L263.45 217.35 L263.45 218.11 L263.82 219.26 L264.57 220.02 L265.31 220.4 L266.43 220.4 L267.17 220.02 L268.25 218.92 M279.41 210.54 L278.33 211.64 L277.59 212.78 L276.85 214.3 L276.47 216.21 L276.47 217.73 L276.85 219.64 L277.59 221.16 L278.33 222.31 L279.41 223.4 M281.68 211.9 L281.68 218.11 L282.05 219.26 L282.8 220.02 L283.91 220.4 L284.66 220.4 L285.77 220.02 L286.52 219.26 L286.89 218.11 L286.89 211.9 M291.36 211.9 L291.36 220.9 M288.3 212.4 L294.41 212.4 M295.12 210.54 L296.19 211.64 L296.94 212.78 L297.68 214.3 L298.05 216.21 L298.05 217.73 L297.68 219.64 L296.94 221.16 L296.19 222.31 L295.12 223.4" fill="none" stroke="#000" stroke-width="1.8" stroke-linecap="butt" stroke-linejoin="round" shape-rendering="crispEdges"/>
<path transform="scale(1.12,1)" d="M245.22 412.7 L245.22 421.7 M242.17 413.2 L248.27 413.2 M249.31 413.2 L249.69 413.58 L250.06 413.2 L249.69 412.82 L249.31 413.2 Z M249.69 415.37 L249.69 421.7 M252.66 415.37 L252.66 421.7 M252.33 417.73 L253.78 416.25 L254.52 415.87 L255.64 415.87 L256.38 416.25 L256.75 417.39 L256.75 421.7 M256.43 417.73 L257.87 416.25 L258.62 415.87 L259.73 415.87 L260.48 416.25 L260.85 417.39 L260.85 421.7 M263.01 418.15 L267.92 418.15 L267.92 417.39 L267.54 416.63 L267.17 416.25 L266.43 415.87 L265.31 415.87 L264.57 416.25 L263.82 417.01 L263.45 418.15 L263.45 418.91 L263.82 420.06 L264.57 420.82 L265.31 421.2 L266.43 421.2 L267.17 420.82 L268.25 419.72 M279.41 411.34 L278.33 412.44 L277.59 413.58 L276.85 415.1 L276.47 417.01 L276.47 418.53 L276.85 420.44 L277.59 421.96 L278.33 423.1 L279.41 424.2 M281.68 412.7 L281.68 418.91 L282.05 420.06 L282.8 420.82 L283.91 421.2 L284.66 421.2 L285.77 420.82 L286.52 420.06 L286.89 418.91 L286.89 412.7 M291.36 412.7 L291.36 421.7 M288.3 413.2 L294.41 413.2 M295.12 411.34 L296.19 412.44 L296.94 413.58 L297.68 415.1 L298.05 417.01 L298.05 418.53 L297.68 420.44 L296.94 421.96 L296.19 423.1 L295.12 424.2" fill="none" stroke="#000" stroke-width="1.8" stroke-linecap="butt" stroke-linejoin="round" shape-rendering="crispEdges"/>
<path transform="scale(2.0,1)" d="M100.42 241.22 L99.9 241.75 L99.38 242.8 L99.11 243.85 L98.85 245.43 L98.85 248.05 L99.11 249.62 L99.38 250.68 L99.9 251.72 L100.42 252.25 L101.47 252.25 L102 251.72 L102.53 250.68 L102.79 249.62 L103.05 248.05 L103.05 245.43 L102.79 243.85 L102.53 242.8 L102 241.75 L101.47 241.22 L100.42 241.22 Z M101.04 249.8 L102.96 253.65 M108.67 244.3 L108.3 242.8 L107.78 241.75 L107.25 241.22 L106.2 241.22 L105.68 241.75 L105.15 242.8 L104.89 243.85 L104.62 245.43 L104.62 248.05 L104.89 249.62 L105.15 250.68 L105.68 251.72 L106.2 252.25 L107.25 252.25 L107.78 251.72 L108.3 250.68 L108.67 249.18 M113.72 240.76 L116 252.72 M118.1 240.76 L115.82 252.72 M122.21 244.4 L122.21 252.75 M122.39 246.83 L121.69 245.43 L121.16 244.9 L120.38 244.9 L119.85 245.43 L119.33 246.47 L119.06 248.05 L119.06 249.1 L119.33 250.68 L119.85 251.72 L120.38 252.25 L121.16 252.25 L121.69 251.72 L122.39 250.32 M124.31 240.72 L124.31 252.75 M126.41 244.4 L126.41 250.15 L126.67 251.72 L127.2 252.25 L127.99 252.25 L128.51 251.72 L129.48 249.8 M129.3 244.4 L129.3 252.75 M130.89 248.05 L134.29 248.05 L134.29 247 L134.03 245.95 L133.76 245.43 L133.24 244.9 L132.45 244.9 L131.92 245.43 L131.4 246.47 L131.14 248.05 L131.14 249.1 L131.4 250.68 L131.92 251.72 L132.45 252.25 L133.24 252.25 L133.76 251.72 L134.46 250.32 M138.86 246.92 L138.49 245.43 L137.7 244.9 L136.91 244.9 L136.12 245.43 L135.86 246.47 L136.12 247.53 L136.65 248.05 L137.96 248.57 L138.49 249.1 L138.75 250.15 L138.75 250.68 L138.49 251.72 L137.7 252.25 L136.91 252.25 L136.12 251.72 L135.75 250.23 M146.61 241.22 L145.84 241.22 L145.31 241.75 L145.05 243.32 L145.05 252.75 M144.01 244.9 L146.35 244.9 M148.99 244.9 L148.46 245.43 L147.94 246.47 L147.67 248.05 L147.67 249.1 L147.94 250.68 L148.46 251.72 L148.99 252.25 L149.77 252.25 L150.3 251.72 L150.82 250.68 L151.09 249.1 L151.09 248.05 L150.82 246.47 L150.3 245.43 L149.77 244.9 L148.99 244.9 Z M152.93 244.4 L152.93 252.75 M152.85 248.52 L153.19 246.47 L153.71 245.43 L154.24 244.9 L155.28 244.9 M160.54 240.72 L160.54 252.75 M160.29 241.22 L162.37 241.22 L163.16 241.75 L163.69 242.8 L163.95 243.85 L164.21 245.43 L164.21 248.05 L163.95 249.62 L163.69 250.68 L163.16 251.72 L162.37 252.25 L160.29 252.25 M165.79 241.22 L166.05 241.75 L166.31 241.22 L166.05 240.7 L165.79 241.22 Z M166.05 244.4 L166.05 252.75 M169.97 241.22 L169.2 241.22 L168.67 241.75 L168.41 243.32 L168.41 252.75 M167.37 244.9 L169.71 244.9 M174.89 243.15 L174.19 241.75 L173.4 241.22 L172.35 241.22 L171.56 241.75 L171.04 242.8 L171.04 243.85 L171.3 244.9 L171.56 245.43 L172.09 245.95 L173.66 247 L174.19 247.53 L174.45 248.05 L174.71 249.1 L174.71 250.68 L174.19 251.72 L173.4 252.25 L172.35 252.25 L171.56 251.72 L170.86 250.32 M175.97 240.74 L177.4 252.74 M178.71 240.74 L177.28 252.74 M178.59 240.74 L180.02 252.74 M181.33 240.74 L179.9 252.74 M187.17 238.69 L182.2 256.36 M192.41 244.3 L192.04 242.8 L191.51 241.75 L190.99 241.22 L189.94 241.22 L189.41 241.75 L188.89 242.8 L188.62 243.85 L188.36 245.43 L188.36 248.05 L188.62 249.62 L188.89 250.68 L189.41 251.72 L189.94 252.25 L190.99 252.25 L191.51 251.72 L192.04 250.68 L192.3 249.62 L192.3 247.55 M190.74 248.05 L192.55 248.05 M197.73 243.15 L197.02 241.75 L196.24 241.22 L195.19 241.22 L194.4 241.75 L193.87 242.8 L193.87 243.85 L194.14 244.9 L194.4 245.43 L194.92 245.95 L196.5 247 L197.02 247.53 L197.29 248.05 L197.55 249.1 L197.55 250.68 L197.02 251.72 L196.24 252.25 L195.19 252.25 L194.4 251.72 L193.7 250.32 M198.8 240.74 L200.23 252.74 M201.55 240.74 L200.12 252.74 M201.43 240.74 L202.86 252.74 M204.17 240.74 L202.74 252.74" fill="none" stroke="#000" stroke-width="1.0" stroke-linecap="butt" stroke-linejoin="round" shape-rendering="crispEdges"/>
<path transform="scale(1.12,1)" d="M83.23 274.5 L79.06 274.5 L78.69 277.93 L79.06 277.55 L80.18 277.17 L81.29 277.17 L82.41 277.55 L83.15 278.31 L83.53 279.45 L83.53 280.21 L83.15 281.36 L82.41 282.12 L81.29 282.5 L80.18 282.5 L79.06 282.12 L78.69 281.74 L78.1 280.54" fill="none" stroke="#000" stroke-width="1.8" stroke-linecap="butt" stroke-linejoin="round" shape-rendering="crispEdges"/>
<path transform="scale(1.12,1)" d="M82.31 292.1 L78.32 297.83 L84.35 297.83 M82.04 292 L82.04 301" fill="none" stroke="#000" stroke-width="1.8" stroke-linecap="butt" stroke-linejoin="round" shape-rendering="crispEdges"/>
<path transform="scale(1.12,1)" d="M78.62 311.5 L83.15 311.5 L80.92 314.55 L82.04 314.55 L82.78 314.93 L83.15 315.31 L83.53 316.45 L83.53 317.21 L83.15 318.36 L82.41 319.12 L81.29 319.5 L80.18 319.5 L79.06 319.12 L78.69 318.74 L78.1 317.54" fill="none" stroke="#000" stroke-width="1.8" stroke-linecap="butt" stroke-linejoin="round" shape-rendering="crispEdges"/>
<path transform="scale(1.12,1)" d="M78.69 331.9 L78.69 331.02 L79.06 330.26 L79.43 329.88 L80.18 329.5 L81.67 329.5 L82.41 329.88 L82.78 330.26 L83.15 331.02 L83.15 331.79 L82.78 332.55 L82.04 333.69 L78.32 337.5 L83.97 337.5" fill="none" stroke="#000" stroke-width="1.8" stroke-linecap="butt" stroke-linejoin="round" shape-rendering="crispEdges"/>
<path transform="scale(1.12,1)" d="M79.03 350.23 L80.18 349.64 L81.29 348.5 L81.29 357" fill="none" stroke="#000" stroke-width="1.8" stroke-linecap="butt" stroke-linejoin="round" shape-rendering="crispEdges"/>
<path transform="scale(1.12,1)" d="M80.55 366.5 L79.43 366.88 L78.69 368.02 L78.32 369.93 L78.32 371.07 L78.69 372.98 L79.43 374.12 L80.55 374.5 L81.29 374.5 L82.41 374.12 L83.15 372.98 L83.53 371.07 L83.53 369.93 L83.15 368.02 L82.41 366.88 L81.29 366.5 L80.55 366.5 Z" fill="none" stroke="#000" stroke-width="1.8" stroke-linecap="butt" stroke-linejoin="round" shape-rendering="crispEdges"/>
<path transform="scale(1.12,1)" d="M83.37 261.58 L82.78 260.38 L81.67 260 L80.92 260 L79.81 260.38 L79.06 261.52 L78.69 263.43 L78.69 265.33 L79.06 266.86 L79.81 267.62 L80.92 268 L81.29 268 L82.41 267.62 L83.15 266.86 L83.53 265.71 L83.53 265.33 L83.15 264.19 L82.41 263.43 L81.29 263.05 L80.92 263.05 L79.81 263.43 L79.06 264.19 L78.54 265.8" fill="none" stroke="#000" stroke-width="1.8" stroke-linecap="butt" stroke-linejoin="round" shape-rendering="crispEdges"/>
<path transform="scale(1.12,1)" d="M68.57 384.57 L76.16 384.57 M79.03 381.73 L80.18 381.14 L81.29 380 L81.29 388.5" fill="none" stroke="#000" stroke-width="1.8" stroke-linecap="butt" stroke-linejoin="round" shape-rendering="crispEdges"/>
<path transform="scale(1.0,1)" d="M105.8 425 L105.8 431.04 M103.27 426.5 L108.33 429.54 M108.33 426.5 L103.27 429.54" fill="none" stroke="#000" stroke-width="1.1" stroke-linecap="butt" stroke-linejoin="round" shape-rendering="crispEdges"/>
<path transform="scale(1.1,1)" d="M106.78 424.79 L106.78 431.8 M104.45 425.29 L109.11 425.29 M109.28 429.01 L112.95 429.01 L112.95 428.44 L112.68 427.87 L112.41 427.58 L111.88 427.3 L111.07 427.3 L110.54 427.58 L110 428.15 L109.73 429.01 L109.73 429.58 L110 430.44 L110.54 431.01 L111.07 431.3 L111.88 431.3 L112.41 431.01 L113.28 430.09 M117.72 428.6 L117.24 427.58 L116.44 427.3 L115.63 427.3 L114.83 427.58 L114.56 428.15 L114.83 428.73 L115.36 429.01 L116.7 429.3 L117.24 429.58 L117.51 430.16 L117.51 430.44 L117.24 431.01 L116.44 431.3 L115.63 431.3 L114.83 431.01 L114.35 430 M119.65 424.79 L119.65 430.16 L119.92 431.01 L120.46 431.3 L121.45 431.3 M118.4 427.3 L121.18 427.3 M126.9 424.79 L126.9 431.8 M126.64 424.88 L130.91 431.71 M130.65 424.79 L130.65 431.8 M133.87 427.3 L133.33 427.58 L132.8 428.15 L132.53 429.01 L132.53 429.58 L132.8 430.44 L133.33 431.01 L133.87 431.3 L134.67 431.3 L135.21 431.01 L135.75 430.44 L136.01 429.58 L136.01 429.01 L135.75 428.15 L135.21 427.58 L134.67 427.3 L133.87 427.3 Z M138.16 424.79 L138.16 430.16 L138.43 431.01 L138.96 431.3 L139.95 431.3 M136.9 427.3 L139.69 427.3 M145.4 424.79 L145.4 431.8 M144.95 425.29 L147.81 425.29 L148.62 425.58 L148.89 425.87 L149.15 426.44 L149.15 427.3 L148.89 427.87 L148.62 428.15 L147.81 428.44 L144.95 428.44 M152.1 427.3 L151.57 427.58 L151.03 428.15 L150.76 429.01 L150.76 429.58 L151.03 430.44 L151.57 431.01 L152.1 431.3 L152.91 431.3 L153.45 431.01 L153.98 430.44 L154.25 429.58 L154.25 429.01 L153.98 428.15 L153.45 427.58 L152.91 427.3 L152.1 427.3 Z M159.02 428.6 L158.54 427.58 L157.74 427.3 L156.93 427.3 L156.13 427.58 L155.86 428.15 L156.13 428.73 L156.66 429.01 L158 429.3 L158.54 429.58 L158.81 430.16 L158.81 430.44 L158.54 431.01 L157.74 431.3 L156.93 431.3 L156.13 431.01 L155.65 430 M163.58 428.6 L163.1 427.58 L162.3 427.3 L161.49 427.3 L160.69 427.58 L160.42 428.15 L160.69 428.73 L161.22 429.01 L162.56 429.3 L163.1 429.58 L163.37 430.16 L163.37 430.44 L163.1 431.01 L162.3 431.3 L161.49 431.3 L160.69 431.01 L160.21 430 M164.98 425.29 L165.25 425.58 L165.51 425.29 L165.25 425.01 L164.98 425.29 Z M165.25 426.8 L165.25 431.8 M167.39 424.79 L167.39 431.8 M167.06 428.5 L167.93 427.58 L168.46 427.3 L169.27 427.3 L169.8 427.58 L170.34 428.15 L170.61 429.01 L170.61 429.58 L170.34 430.44 L169.8 431.01 L169.27 431.3 L168.46 431.3 L167.93 431.01 L167.06 430.09 M172.49 424.79 L172.49 431.8 M173.91 429.01 L177.58 429.01 L177.58 428.44 L177.31 427.87 L177.05 427.58 L176.51 427.3 L175.7 427.3 L175.17 427.58 L174.63 428.15 L174.36 429.01 L174.36 429.58 L174.63 430.44 L175.17 431.01 L175.7 431.3 L176.51 431.3 L177.05 431.01 L177.91 430.09" fill="none" stroke="#000" stroke-width="1.0" stroke-linecap="butt" stroke-linejoin="round" shape-rendering="crispEdges"/>
<path transform="scale(1.0,1)" d="M105.8 436.8 L105.8 442.84 M103.27 438.3 L108.33 441.34 M108.33 438.3 L103.27 441.34" fill="none" stroke="#00ff00" stroke-width="1.1" stroke-linecap="butt" stroke-linejoin="round" shape-rendering="crispEdges"/>
<path transform="scale(1.1,1)" d="M105.71 436.59 L105.71 443.6 M105.25 437.09 L107.59 437.09 L108.39 437.38 L108.93 437.95 L109.2 438.52 L109.46 439.38 L109.46 440.81 L109.2 441.67 L108.93 442.24 L108.39 442.81 L107.59 443.1 L105.25 443.1 M114.29 438.6 L114.29 443.6 M114.62 440.3 L113.75 439.38 L113.22 439.1 L112.41 439.1 L111.88 439.38 L111.34 439.95 L111.07 440.81 L111.07 441.38 L111.34 442.24 L111.88 442.81 L112.41 443.1 L113.22 443.1 L113.75 442.81 L114.62 441.89 M116.7 436.59 L116.7 441.96 L116.97 442.81 L117.51 443.1 L118.5 443.1 M115.45 439.1 L118.23 439.1 M122.6 438.6 L122.6 443.6 M122.93 440.3 L122.07 439.38 L121.53 439.1 L120.73 439.1 L120.19 439.38 L119.65 439.95 L119.39 440.81 L119.39 441.38 L119.65 442.24 L120.19 442.81 L120.73 443.1 L121.53 443.1 L122.07 442.81 L122.93 441.89 M130.38 437.09 L129.85 437.38 L129.31 437.95 L129.04 438.52 L128.77 439.38 L128.77 440.81 L129.04 441.67 L129.31 442.24 L129.85 442.81 L130.38 443.1 L131.45 443.1 L131.99 442.81 L132.53 442.24 L132.8 441.67 L133.06 440.81 L133.06 439.38 L132.8 438.52 L132.53 437.95 L131.99 437.38 L131.45 437.09 L130.38 437.09 Z M134.94 436.59 L134.94 443.6 M139.02 436.75 L134.61 441.45 M136 439.27 L138.97 443.5" fill="none" stroke="#000" stroke-width="1.0" stroke-linecap="butt" stroke-linejoin="round" shape-rendering="crispEdges"/>
<path transform="scale(1.0,1)" d="M259.5 425 L259.5 431.04 M256.97 426.5 L262.03 429.54 M262.03 426.5 L256.97 429.54" fill="none" stroke="#ff8000" stroke-width="1.1" stroke-linecap="butt" stroke-linejoin="round" shape-rendering="crispEdges"/>
<path transform="scale(1.1,1)" d="M249.16 426.7 L248.3 425.78 L247.49 425.49 L246.42 425.49 L245.61 425.78 L245.08 426.35 L245.08 426.92 L245.35 427.5 L245.61 427.78 L246.15 428.07 L247.76 428.64 L248.3 428.93 L248.56 429.21 L248.83 429.78 L248.83 430.64 L248.3 431.21 L247.49 431.5 L246.42 431.5 L245.61 431.21 L244.75 430.29 M254.45 425.08 L250.18 431.91 M249.99 425.49 L254.65 425.49 M249.99 431.5 L254.65 431.5 M257.58 425.03 L255.1 431.97 M257.25 425.03 L259.73 431.97 M255.62 429.5 L259.21 429.5 M269.88 426.11 L265.19 428.93 L269.88 431.74 M279.6 425.05 L276.52 431.95 M275.2 425.49 L279.86 425.49 M284.69 425.49 L281.55 425.49 L281.28 428.07 L281.55 427.78 L282.35 427.5 L283.16 427.5 L283.96 427.78 L284.5 428.35 L284.77 429.21 L284.77 429.78 L284.5 430.64 L283.96 431.21 L283.16 431.5 L282.35 431.5 L281.55 431.21 L281.28 430.93 L280.81 429.91 M287.51 430.87 L286.91 431.5 L286.65 431.21 L286.91 430.93 L287.18 431.21 L287.18 431.79 L286.91 432.36 L286.32 432.99 M297.58 427.37 L297.1 426.35 L296.57 425.78 L296.03 425.49 L294.96 425.49 L294.42 425.78 L293.89 426.35 L293.62 426.92 L293.35 427.78 L293.35 429.21 L293.62 430.07 L293.89 430.64 L294.42 431.21 L294.96 431.5 L296.03 431.5 L296.57 431.21 L297.1 430.64 L297.37 430.07 L297.37 428.71 M295.58 429.21 L297.83 429.21 M303.06 426.7 L302.2 425.78 L301.4 425.49 L300.32 425.49 L299.52 425.78 L298.98 426.35 L298.98 426.92 L299.25 427.5 L299.52 427.78 L300.05 428.07 L301.66 428.64 L302.2 428.93 L302.47 429.21 L302.74 429.78 L302.74 430.64 L302.2 431.21 L301.4 431.5 L300.32 431.5 L299.52 431.21 L298.66 430.29 M303.97 425.01 L305.53 431.99 M306.87 425.01 L305.31 431.99 M306.65 425.01 L308.21 431.99 M309.55 425.01 L307.99 431.99 M314.94 426.11 L319.63 428.93 L314.94 431.74 M329.47 425.49 L326.34 425.49 L326.07 428.07 L326.34 427.78 L327.14 427.5 L327.95 427.5 L328.75 427.78 L329.29 428.35 L329.55 429.21 L329.55 429.78 L329.29 430.64 L328.75 431.21 L327.95 431.5 L327.14 431.5 L326.34 431.21 L326.07 430.93 L325.59 429.91 M332.77 425.49 L331.97 425.78 L331.43 426.64 L331.16 428.07 L331.16 428.93 L331.43 430.36 L331.97 431.21 L332.77 431.5 L333.31 431.5 L334.11 431.21 L334.65 430.36 L334.92 428.93 L334.92 428.07 L334.65 426.64 L334.11 425.78 L333.31 425.49 L332.77 425.49 Z M340.44 425.01 L342 431.99 M343.34 425.01 L341.78 431.99 M343.12 425.01 L344.68 431.99 M346.02 425.01 L344.46 431.99 M352.04 423.92 L346.76 433.93 M353.42 427 L353.42 432 M353.1 428.99 L354.23 427.78 L354.76 427.5 L355.57 427.5 L356.1 427.78 L356.37 428.64 L356.37 432 M356.05 428.99 L357.18 427.78 L357.71 427.5 L358.52 427.5 L359.05 427.78 L359.32 428.64 L359.32 432 M361.12 424.46 L361.12 423.76 L361.31 423.37 L361.49 423.18 L361.85 422.98 L362.58 422.98 L362.95 423.18 L363.13 423.37 L363.31 423.76 L363.31 424.15 L363.13 424.54 L362.77 425.12 L360.94 427.07 L363.95 427.07 M365.98 430.87 L365.38 431.5 L365.12 431.21 L365.38 430.93 L365.65 431.21 L365.65 431.79 L365.38 432.36 L364.79 432.99 M372.09 424.99 L372.09 432 M371.63 425.49 L373.97 425.49 L374.77 425.78 L375.31 426.35 L375.57 426.92 L375.84 427.78 L375.84 429.21 L375.57 430.07 L375.31 430.64 L374.77 431.21 L373.97 431.5 L371.63 431.5 M377.45 425.49 L377.72 425.78 L377.99 425.49 L377.72 425.21 L377.45 425.49 Z M377.72 427 L377.72 432 M381.93 425.49 L380.94 425.49 L380.4 425.78 L380.13 426.64 L380.13 432 M378.87 427.5 L381.66 427.5 M386.9 426.7 L386.03 425.78 L385.23 425.49 L384.16 425.49 L383.35 425.78 L382.82 426.35 L382.82 426.92 L383.08 427.5 L383.35 427.78 L383.89 428.07 L385.5 428.64 L386.03 428.93 L386.3 429.21 L386.57 429.78 L386.57 430.64 L386.03 431.21 L385.23 431.5 L384.16 431.5 L383.35 431.21 L382.49 430.29 M387.8 425.01 L389.36 431.99 M390.7 425.01 L389.14 431.99 M390.48 425.01 L392.04 431.99 M393.38 425.01 L391.83 431.99 M399.4 423.92 L394.12 433.93 M404.75 427.37 L404.27 426.35 L403.73 425.78 L403.2 425.49 L402.12 425.49 L401.59 425.78 L401.05 426.35 L400.78 426.92 L400.52 427.78 L400.52 429.21 L400.78 430.07 L401.05 430.64 L401.59 431.21 L402.12 431.5 L403.2 431.5 L403.73 431.21 L404.27 430.64 L404.54 430.07 L404.54 428.71 M402.74 429.21 L404.99 429.21 M410.23 426.7 L409.37 425.78 L408.56 425.49 L407.49 425.49 L406.68 425.78 L406.15 426.35 L406.15 426.92 L406.42 427.5 L406.68 427.78 L407.22 428.07 L408.83 428.64 L409.37 428.93 L409.63 429.21 L409.9 429.78 L409.9 430.64 L409.37 431.21 L408.56 431.5 L407.49 431.5 L406.68 431.21 L405.82 430.29 M411.13 425.01 L412.69 431.99 M414.03 425.01 L412.48 431.99 M413.82 425.01 L415.37 431.99 M416.71 425.01 L415.16 431.99 M422.11 426.11 L426.8 428.93 L422.11 431.74 M433.36 426.86 L434.31 426.35 L435.11 425.49 L435.11 432 M438.87 431.3 L438.6 431.59 L438.87 431.87 L439.13 431.59 L438.87 431.3 Z M442.62 425.49 L441.82 425.78 L441.28 426.64 L441.01 428.07 L441.01 428.93 L441.28 430.36 L441.82 431.21 L442.62 431.5 L443.16 431.5 L443.96 431.21 L444.5 430.36 L444.77 428.93 L444.77 428.07 L444.5 426.64 L443.96 425.78 L443.16 425.49 L442.62 425.49 Z M450.05 425.49 L446.91 425.49 L446.64 428.07 L446.91 427.78 L447.72 427.5 L448.52 427.5 L449.32 427.78 L449.86 428.35 L450.13 429.21 L450.13 429.78 L449.86 430.64 L449.32 431.21 L448.52 431.5 L447.72 431.5 L446.91 431.21 L446.64 430.93 L446.17 429.91" fill="none" stroke="#000" stroke-width="1.0" stroke-linecap="butt" stroke-linejoin="round" shape-rendering="crispEdges"/>
<path transform="scale(1.0,1)" d="M259.5 437 L259.5 443.04 M256.97 438.5 L262.03 441.54 M262.03 438.5 L256.97 441.54" fill="none" stroke="#ff0000" stroke-width="1.1" stroke-linecap="butt" stroke-linejoin="round" shape-rendering="crispEdges"/>
<path transform="scale(1.1,1)" d="M249.3 436.95 L246.22 443.85 M244.9 437.39 L249.56 437.39 M254.39 437.39 L251.25 437.39 L250.98 439.97 L251.25 439.68 L252.05 439.4 L252.86 439.4 L253.66 439.68 L254.2 440.25 L254.47 441.11 L254.47 441.68 L254.2 442.54 L253.66 443.11 L252.86 443.4 L252.05 443.4 L251.25 443.11 L250.98 442.83 L250.51 441.81 M265.33 438.01 L260.64 440.83 L265.33 443.64 M275.18 438.6 L274.31 437.68 L273.51 437.39 L272.44 437.39 L271.63 437.68 L271.1 438.25 L271.1 438.82 L271.36 439.4 L271.63 439.68 L272.17 439.97 L273.78 440.54 L274.31 440.83 L274.58 441.11 L274.85 441.68 L274.85 442.54 L274.31 443.11 L273.51 443.4 L272.44 443.4 L271.63 443.11 L270.77 442.19 M280.47 436.98 L276.2 443.81 M276 437.39 L280.67 437.39 M276 443.4 L280.67 443.4 M283.6 436.93 L281.12 443.87 M283.27 436.93 L285.74 443.87 M281.64 441.4 L285.23 441.4 M295.9 438.01 L291.21 440.83 L295.9 443.64 M305.3 438.92 L304.89 440.25 L304.35 440.83 L303.55 441.11 L303.28 441.11 L302.47 440.83 L301.94 440.25 L301.67 439.4 L301.67 439.11 L301.94 438.25 L302.47 437.68 L303.28 437.39 L303.55 437.39 L304.35 437.68 L304.89 438.25 L305.15 439.4 L305.15 440.83 L304.89 442.26 L304.35 443.11 L303.55 443.4 L303.01 443.4 L302.2 443.11 L301.73 442.1 M307.11 437.39 L310.52 437.39 L308.91 439.68 L309.71 439.68 L310.25 439.97 L310.52 440.25 L310.79 441.11 L310.79 441.68 L310.52 442.54 L309.98 443.11 L309.18 443.4 L308.37 443.4 L307.57 443.11 L307.3 442.83 L306.82 441.81 M313.53 442.77 L312.93 443.4 L312.66 443.11 L312.93 442.83 L313.2 443.11 L313.2 443.69 L312.93 444.26 L312.34 444.89 M323.6 439.27 L323.12 438.25 L322.59 437.68 L322.05 437.39 L320.98 437.39 L320.44 437.68 L319.9 438.25 L319.64 438.82 L319.37 439.68 L319.37 441.11 L319.64 441.97 L319.9 442.54 L320.44 443.11 L320.98 443.4 L322.05 443.4 L322.59 443.11 L323.12 442.54 L323.39 441.97 L323.39 440.61 M321.6 441.11 L323.85 441.11 M329.08 438.6 L328.22 437.68 L327.41 437.39 L326.34 437.39 L325.54 437.68 L325 438.25 L325 438.82 L325.27 439.4 L325.54 439.68 L326.07 439.97 L327.68 440.54 L328.22 440.83 L328.49 441.11 L328.75 441.68 L328.75 442.54 L328.22 443.11 L327.41 443.4 L326.34 443.4 L325.54 443.11 L324.67 442.19 M329.99 436.91 L331.54 443.89 M332.89 436.91 L331.33 443.89 M332.67 436.91 L334.23 443.89 M335.57 436.91 L334.01 443.89 M340.96 438.01 L345.65 440.83 L340.96 443.64 M355.49 437.39 L352.35 437.39 L352.09 439.97 L352.35 439.68 L353.16 439.4 L353.96 439.4 L354.77 439.68 L355.3 440.25 L355.57 441.11 L355.57 441.68 L355.3 442.54 L354.77 443.11 L353.96 443.4 L353.16 443.4 L352.35 443.11 L352.09 442.83 L351.61 441.81 M358.79 437.39 L357.99 437.68 L357.45 438.54 L357.18 439.97 L357.18 440.83 L357.45 442.26 L357.99 443.11 L358.79 443.4 L359.33 443.4 L360.13 443.11 L360.67 442.26 L360.94 440.83 L360.94 439.97 L360.67 438.54 L360.13 437.68 L359.33 437.39 L358.79 437.39 Z M366.46 436.91 L368.02 443.89 M369.36 436.91 L367.8 443.89 M369.14 436.91 L370.7 443.89 M372.04 436.91 L370.48 443.89 M378.06 435.82 L372.78 445.83 M379.44 438.9 L379.44 443.9 M379.11 440.89 L380.25 439.68 L380.78 439.4 L381.59 439.4 L382.12 439.68 L382.39 440.54 L382.39 443.9 M382.06 440.89 L383.2 439.68 L383.73 439.4 L384.54 439.4 L385.07 439.68 L385.34 440.54 L385.34 443.9 M387.14 436.36 L387.14 435.66 L387.33 435.27 L387.51 435.08 L387.87 434.88 L388.6 434.88 L388.97 435.08 L389.15 435.27 L389.33 435.66 L389.33 436.05 L389.15 436.44 L388.78 437.02 L386.96 438.97 L389.97 438.97 M392 442.77 L391.4 443.4 L391.13 443.11 L391.4 442.83 L391.67 443.11 L391.67 443.69 L391.4 444.26 L390.81 444.89 M398.11 436.89 L398.11 443.9 M397.65 437.39 L399.98 437.39 L400.79 437.68 L401.32 438.25 L401.59 438.82 L401.86 439.68 L401.86 441.11 L401.59 441.97 L401.32 442.54 L400.79 443.11 L399.98 443.4 L397.65 443.4 M403.47 437.39 L403.74 437.68 L404.01 437.39 L403.74 437.11 L403.47 437.39 Z M403.74 438.9 L403.74 443.9 M407.95 437.39 L406.96 437.39 L406.42 437.68 L406.15 438.54 L406.15 443.9 M404.89 439.4 L407.68 439.4 M412.91 438.6 L412.05 437.68 L411.25 437.39 L410.17 437.39 L409.37 437.68 L408.83 438.25 L408.83 438.82 L409.1 439.4 L409.37 439.68 L409.91 439.97 L411.52 440.54 L412.05 440.83 L412.32 441.11 L412.59 441.68 L412.59 442.54 L412.05 443.11 L411.25 443.4 L410.17 443.4 L409.37 443.11 L408.51 442.19 M413.82 436.91 L415.38 443.89 M416.72 436.91 L415.16 443.89 M416.5 436.91 L418.06 443.89 M419.4 436.91 L417.84 443.89 M425.42 435.82 L420.14 445.83 M430.76 439.27 L430.29 438.25 L429.75 437.68 L429.22 437.39 L428.14 437.39 L427.61 437.68 L427.07 438.25 L426.8 438.82 L426.53 439.68 L426.53 441.11 L426.8 441.97 L427.07 442.54 L427.61 443.11 L428.14 443.4 L429.22 443.4 L429.75 443.11 L430.29 442.54 L430.56 441.97 L430.56 440.61 M428.76 441.11 L431.01 441.11 M436.25 438.6 L435.38 437.68 L434.58 437.39 L433.51 437.39 L432.7 437.68 L432.17 438.25 L432.17 438.82 L432.43 439.4 L432.7 439.68 L433.24 439.97 L434.85 440.54 L435.38 440.83 L435.65 441.11 L435.92 441.68 L435.92 442.54 L435.38 443.11 L434.58 443.4 L433.51 443.4 L432.7 443.11 L431.84 442.19 M437.15 436.91 L438.71 443.89 M440.05 436.91 L438.49 443.89 M439.83 436.91 L441.39 443.89 M442.73 436.91 L441.18 443.89 M448.13 438.01 L452.82 440.83 L448.13 443.64 M459.38 438.76 L460.32 438.25 L461.13 437.39 L461.13 443.9 M464.88 443.2 L464.62 443.49 L464.88 443.77 L465.15 443.49 L464.88 443.2 Z M467.42 438.76 L468.37 438.25 L469.17 437.39 L469.17 443.9 M474 437.39 L473.2 437.68 L472.66 438.54 L472.39 439.97 L472.39 440.83 L472.66 442.26 L473.2 443.11 L474 443.4 L474.54 443.4 L475.34 443.11 L475.88 442.26 L476.15 440.83 L476.15 439.97 L475.88 438.54 L475.34 437.68 L474.54 437.39 L474 437.39 Z" fill="none" stroke="#000" stroke-width="1.0" stroke-linecap="butt" stroke-linejoin="round" shape-rendering="crispEdges"/>
<path transform="scale(1.1,1)" d="M7.48 454.25 L7.48 460.6 M5.41 454.75 L9.54 454.75 M10.24 456.03 L10.24 459.08 L10.47 459.85 L10.93 460.1 L11.62 460.1 L12.08 459.85 L13.09 458.73 M12.77 456.03 L12.77 460.6 M13.93 458.06 L17.14 458.06 L17.14 457.55 L16.91 457.04 L16.68 456.79 L16.22 456.53 L15.53 456.53 L15.07 456.79 L14.61 457.3 L14.38 458.06 L14.38 458.57 L14.61 459.34 L15.07 459.85 L15.53 460.1 L16.22 460.1 L16.68 459.85 L17.46 458.98 M22.43 454.25 L22.43 460.6 M21.98 454.75 L24.04 454.75 L24.73 455 L25.19 455.51 L25.42 456.02 L25.65 456.79 L25.65 458.06 L25.42 458.83 L25.19 459.34 L24.73 459.85 L24.04 460.1 L21.98 460.1 M26.58 458.06 L29.8 458.06 L29.8 457.55 L29.57 457.04 L29.34 456.79 L28.88 456.53 L28.19 456.53 L27.73 456.79 L27.26 457.3 L27.03 458.06 L27.03 458.57 L27.26 459.34 L27.73 459.85 L28.19 460.1 L28.88 460.1 L29.34 459.85 L30.12 458.98 M34.26 457.65 L33.48 456.79 L33.02 456.53 L32.33 456.53 L31.87 456.79 L31.41 457.3 L31.18 458.06 L31.18 458.57 L31.41 459.34 L31.87 459.85 L32.33 460.1 L33.02 460.1 L33.48 459.85 L34.26 458.98 M45.81 456.06 L45.44 457.3 L44.98 457.81 L44.29 458.06 L44.06 458.06 L43.37 457.81 L42.91 457.3 L42.68 456.53 L42.68 456.28 L42.91 455.51 L43.37 455 L44.06 454.75 L44.29 454.75 L44.98 455 L45.44 455.51 L45.67 456.53 L45.67 457.81 L45.44 459.08 L44.98 459.85 L44.29 460.1 L43.83 460.1 L43.14 459.85 L42.71 458.89 M52.34 454.75 L51.65 455 L51.19 455.77 L50.96 457.04 L50.96 457.81 L51.19 459.08 L51.65 459.85 L52.34 460.1 L52.8 460.1 L53.5 459.85 L53.96 459.08 L54.19 457.81 L54.19 457.04 L53.96 455.77 L53.5 455 L52.8 454.75 L52.34 454.75 Z M58.98 454.29 L56.29 460.55 M55.11 454.75 L59.24 454.75 M60.63 456.53 L60.4 456.79 L60.63 457.04 L60.86 456.79 L60.63 456.53 Z M60.63 459.59 L60.4 459.85 L60.63 460.1 L60.86 459.85 L60.63 459.59 Z M65.03 454.34 L62.47 458.31 L66.37 458.31 M64.77 454.25 L64.77 460.6 M67.08 454.75 L70.06 454.75 L68.68 456.79 L69.37 456.79 L69.83 457.04 L70.06 457.3 L70.29 458.06 L70.29 458.57 L70.06 459.34 L69.6 459.85 L68.91 460.1 L68.22 460.1 L67.53 459.85 L67.3 459.59 L66.87 458.63 M72.13 456.53 L71.9 456.79 L72.13 457.04 L72.36 456.79 L72.13 456.53 Z M72.13 459.59 L71.9 459.85 L72.13 460.1 L72.36 459.85 L72.13 459.59 Z M74.26 455.99 L75.12 455.51 L75.81 454.75 L75.81 460.6 M79.73 454.75 L79.04 455 L78.81 455.51 L78.81 456.02 L79.04 456.53 L79.5 456.79 L80.42 457.04 L81.11 457.3 L81.57 457.81 L81.8 458.31 L81.8 459.08 L81.57 459.59 L81.34 459.85 L80.65 460.1 L79.73 460.1 L79.04 459.85 L78.81 459.59 L78.58 459.08 L78.58 458.31 L78.81 457.81 L79.27 457.3 L79.96 457.04 L80.88 456.79 L81.34 456.53 L81.57 456.02 L81.57 455.51 L81.34 455 L80.65 454.75 L79.73 454.75 Z M87.09 456.52 L87.09 455.77 L87.32 455.25 L87.55 455 L88.01 454.75 L88.93 454.75 L89.39 455 L89.62 455.25 L89.85 455.77 L89.85 456.28 L89.62 456.79 L89.16 457.55 L86.86 460.1 L90.53 460.1 M92.84 454.75 L92.15 455 L91.69 455.77 L91.46 457.04 L91.46 457.81 L91.69 459.08 L92.15 459.85 L92.84 460.1 L93.3 460.1 L93.99 459.85 L94.45 459.08 L94.68 457.81 L94.68 457.04 L94.45 455.77 L93.99 455 L93.3 454.75 L92.84 454.75 Z M97.44 454.75 L96.75 455 L96.29 455.77 L96.06 457.04 L96.06 457.81 L96.29 459.08 L96.75 459.85 L97.44 460.1 L97.9 460.1 L98.59 459.85 L99.05 459.08 L99.28 457.81 L99.28 457.04 L99.05 455.77 L98.59 455 L97.9 454.75 L97.44 454.75 Z M101.81 454.75 L101.12 455 L100.89 455.51 L100.89 456.02 L101.12 456.53 L101.58 456.79 L102.5 457.04 L103.19 457.3 L103.66 457.81 L103.89 458.31 L103.89 459.08 L103.66 459.59 L103.42 459.85 L102.73 460.1 L101.81 460.1 L101.12 459.85 L100.89 459.59 L100.66 459.08 L100.66 458.31 L100.89 457.81 L101.35 457.3 L102.04 457.04 L102.96 456.79 L103.42 456.53 L103.66 456.02 L103.66 455.51 L103.42 455 L102.73 454.75 L101.81 454.75 Z" fill="none" stroke="#000" stroke-width="1.0" stroke-linecap="butt" stroke-linejoin="round" shape-rendering="crispEdges"/>
<path transform="scale(1.1,1)" d="M6.74 468.84 L6.74 475.2 M6.28 469.34 L8.81 469.34 L9.5 469.6 L9.73 469.85 L9.96 470.37 L9.96 470.88 L9.73 471.38 L9.5 471.64 L8.38 472.05 M6.28 471.89 L8.81 471.89 L9.5 472.15 L9.73 472.4 L9.96 472.91 L9.96 473.68 L9.73 474.19 L9.5 474.44 L8.81 474.7 L6.28 474.7 M14.1 470.63 L14.1 475.2 M14.42 472.25 L13.64 471.38 L13.18 471.13 L12.49 471.13 L12.03 471.38 L11.57 471.89 L11.34 472.66 L11.34 473.17 L11.57 473.94 L12.03 474.44 L12.49 474.7 L13.18 474.7 L13.64 474.44 L14.42 473.58 M16.17 468.84 L16.17 473.68 L16.4 474.44 L16.86 474.7 L17.78 474.7 M15.03 471.13 L17.55 471.13 M18.93 468.84 L18.93 473.68 L19.16 474.44 L19.62 474.7 L20.54 474.7 M17.79 471.13 L20.31 471.13 M20.78 472.66 L24 472.66 L24 472.15 L23.77 471.64 L23.54 471.38 L23.07 471.13 L22.38 471.13 L21.92 471.38 L21.46 471.89 L21.23 472.66 L21.23 473.17 L21.46 473.94 L21.92 474.44 L22.38 474.7 L23.07 474.7 L23.54 474.44 L24.32 473.58 M25.61 468.84 L25.61 475.2 M27.45 468.84 L27.45 475.2 M28.6 472.66 L31.82 472.66 L31.82 472.15 L31.59 471.64 L31.36 471.38 L30.9 471.13 L30.21 471.13 L29.75 471.38 L29.29 471.89 L29.06 472.66 L29.06 473.17 L29.29 473.94 L29.75 474.44 L30.21 474.7 L30.9 474.7 L31.36 474.44 L32.14 473.58 M37.11 468.84 L37.11 475.2 M36.66 469.34 L39.18 469.34 L39.87 469.6 L40.1 469.85 L40.33 470.37 L40.33 471.13 L40.1 471.64 L39.87 471.89 L39.18 472.15 L36.66 472.15 M44.47 470.63 L44.47 475.2 M44.79 472.25 L44.01 471.38 L43.55 471.13 L42.86 471.13 L42.4 471.38 L41.94 471.89 L41.71 472.66 L41.71 473.17 L41.94 473.94 L42.4 474.44 L42.86 474.7 L43.55 474.7 L44.01 474.44 L44.79 473.58 M49.17 472.25 L48.38 471.38 L47.92 471.13 L47.23 471.13 L46.77 471.38 L46.31 471.89 L46.08 472.66 L46.08 473.17 L46.31 473.94 L46.77 474.44 L47.23 474.7 L47.92 474.7 L48.38 474.44 L49.17 473.58 M50.23 469.34 L50.46 469.6 L50.69 469.34 L50.46 469.09 L50.23 469.34 Z M50.46 470.63 L50.46 475.2 M54.13 469.34 L53.22 469.34 L52.76 469.6 L52.53 470.37 L52.53 475.2 M51.38 471.13 L53.9 471.13 M54.83 469.34 L55.06 469.6 L55.29 469.34 L55.06 469.09 L54.83 469.34 Z M55.06 470.63 L55.06 475.2 M59.75 472.25 L58.97 471.38 L58.51 471.13 L57.82 471.13 L57.36 471.38 L56.9 471.89 L56.67 472.66 L56.67 473.17 L56.9 473.94 L57.36 474.44 L57.82 474.7 L58.51 474.7 L58.97 474.44 L59.75 473.58 M64.72 468.84 L64.72 475.2 M64.47 468.93 L68.19 475.12 M67.94 468.84 L67.94 475.2 M70.7 471.13 L70.24 471.38 L69.78 471.89 L69.55 472.66 L69.55 473.17 L69.78 473.94 L70.24 474.44 L70.7 474.7 L71.39 474.7 L71.85 474.44 L72.31 473.94 L72.54 473.17 L72.54 472.66 L72.31 471.89 L71.85 471.38 L71.39 471.13 L70.7 471.13 Z M74.16 470.63 L74.16 475.2 M74.01 473.13 L74.39 471.89 L74.85 471.38 L75.31 471.13 L76.45 471.13 M77.38 468.84 L77.38 473.68 L77.61 474.44 L78.07 474.7 L78.98 474.7 M76.23 471.13 L78.75 471.13 M79.91 468.84 L79.91 475.2 M79.59 472.5 L80.6 471.38 L81.06 471.13 L81.75 471.13 L82.21 471.38 L82.44 472.15 L82.44 475.2 M83.93 470.65 L85.09 475.18 M86.01 470.65 L84.85 475.18 M85.77 470.65 L86.93 475.18 M87.85 470.65 L86.69 475.18 M88.66 472.66 L91.87 472.66 L91.87 472.15 L91.64 471.64 L91.41 471.38 L90.95 471.13 L90.26 471.13 L89.8 471.38 L89.34 471.89 L89.11 472.66 L89.11 473.17 L89.34 473.94 L89.8 474.44 L90.26 474.7 L90.95 474.7 L91.41 474.44 L92.19 473.58 M95.99 472.34 L95.55 471.38 L94.86 471.13 L94.17 471.13 L93.48 471.38 L93.25 471.89 L93.48 472.4 L93.94 472.66 L95.09 472.91 L95.55 473.17 L95.78 473.68 L95.78 473.94 L95.55 474.44 L94.86 474.7 L94.17 474.7 L93.48 474.44 L93.05 473.49 M97.62 468.84 L97.62 473.68 L97.85 474.44 L98.31 474.7 L99.23 474.7 M96.48 471.13 L99 471.13 M103.84 468.84 L103.84 475.2 M103.59 468.93 L107.31 475.12 M107.06 468.84 L107.06 475.2 M111.43 470.63 L111.43 475.2 M111.75 472.25 L110.97 471.38 L110.51 471.13 L109.82 471.13 L109.36 471.38 L108.9 471.89 L108.67 472.66 L108.67 473.17 L108.9 473.94 L109.36 474.44 L109.82 474.7 L110.51 474.7 L110.97 474.44 L111.75 473.58 M113.5 468.84 L113.5 473.68 L113.73 474.44 L114.19 474.7 L115.11 474.7 M112.36 471.13 L114.88 471.13 M115.8 469.34 L116.03 469.6 L116.26 469.34 L116.03 469.09 L115.8 469.34 Z M116.03 470.63 L116.03 475.2 M118.79 471.13 L118.33 471.38 L117.87 471.89 L117.64 472.66 L117.64 473.17 L117.87 473.94 L118.33 474.44 L118.79 474.7 L119.48 474.7 L119.94 474.44 L120.4 473.94 L120.63 473.17 L120.63 472.66 L120.4 471.89 L119.94 471.38 L119.48 471.13 L118.79 471.13 Z M122.24 470.63 L122.24 475.2 M121.92 472.5 L122.93 471.38 L123.39 471.13 L124.08 471.13 L124.55 471.38 L124.78 472.15 L124.78 475.2 M129.15 470.63 L129.15 475.2 M129.47 472.25 L128.69 471.38 L128.23 471.13 L127.54 471.13 L127.08 471.38 L126.62 471.89 L126.39 472.66 L126.39 473.17 L126.62 473.94 L127.08 474.44 L127.54 474.7 L128.23 474.7 L128.69 474.44 L129.47 473.58 M130.99 468.84 L130.99 475.2 M136.51 468.84 L136.51 475.2 M136.06 474.7 L139.73 474.7 M142.95 470.63 L142.95 475.2 M143.27 472.25 L142.49 471.38 L142.03 471.13 L141.34 471.13 L140.88 471.38 L140.42 471.89 L140.19 472.66 L140.19 473.17 L140.42 473.94 L140.88 474.44 L141.34 474.7 L142.03 474.7 L142.49 474.44 L143.27 473.58 M144.79 468.84 L144.79 475.2 M144.47 472.25 L145.25 471.38 L145.71 471.13 L146.4 471.13 L146.86 471.38 L147.32 471.89 L147.55 472.66 L147.55 473.17 L147.32 473.94 L146.86 474.44 L146.4 474.7 L145.71 474.7 L145.25 474.44 L144.47 473.58 M150.09 471.13 L149.62 471.38 L149.16 471.89 L148.93 472.66 L148.93 473.17 L149.16 473.94 L149.62 474.44 L150.09 474.7 L150.78 474.7 L151.24 474.44 L151.7 473.94 L151.93 473.17 L151.93 472.66 L151.7 471.89 L151.24 471.38 L150.78 471.13 L150.09 471.13 Z M153.54 470.63 L153.54 475.2 M153.39 473.13 L153.77 471.89 L154.23 471.38 L154.69 471.13 L155.83 471.13 M159.06 470.63 L159.06 475.2 M159.38 472.25 L158.6 471.38 L158.14 471.13 L157.45 471.13 L156.99 471.38 L156.53 471.89 L156.3 472.66 L156.3 473.17 L156.53 473.94 L156.99 474.44 L157.45 474.7 L158.14 474.7 L158.6 474.44 L159.38 473.58 M161.13 468.84 L161.13 473.68 L161.36 474.44 L161.82 474.7 L162.73 474.7 M159.98 471.13 L162.5 471.13 M164.58 471.13 L164.12 471.38 L163.66 471.89 L163.43 472.66 L163.43 473.17 L163.66 473.94 L164.12 474.44 L164.58 474.7 L165.27 474.7 L165.73 474.44 L166.19 473.94 L166.42 473.17 L166.42 472.66 L166.19 471.89 L165.73 471.38 L165.27 471.13 L164.58 471.13 Z M168.03 470.63 L168.03 475.2 M167.89 473.13 L168.26 471.89 L168.72 471.38 L169.18 471.13 L170.33 471.13 M170.39 470.67 L172.12 475.16 M173.5 470.67 L171.94 474.7 L171.48 475.72 L171.02 476.23 L170.56 476.49 L169.88 476.49 M175.49 474.09 L174.93 474.7 L174.7 474.44 L174.93 474.19 L175.17 474.44 L175.17 474.95 L174.93 475.46 L174.38 476.07 M182 468.88 L179.84 475.17 M181.68 468.88 L183.84 475.17 M180.23 472.91 L183.44 472.91 M184.83 470.63 L184.83 475.2 M184.69 473.13 L185.06 471.89 L185.52 471.38 L185.98 471.13 L187.12 471.13 M187.82 470.63 L187.82 475.2 M187.5 472.5 L188.51 471.38 L188.97 471.13 L189.66 471.13 L190.12 471.38 L190.35 472.15 L190.35 475.2 M190.03 472.5 L191.04 471.38 L191.5 471.13 L192.19 471.13 L192.65 471.38 L192.88 472.15 L192.88 475.2 M198.4 468.84 L198.4 475.2 M197.95 469.34 L200.01 469.34 L200.71 469.6 L201.17 470.11 L201.4 470.62 L201.63 471.38 L201.63 472.66 L201.4 473.43 L201.17 473.94 L200.71 474.44 L200.01 474.7 L197.95 474.7 M205.77 470.63 L205.77 475.2 M206.09 472.25 L205.31 471.38 L204.85 471.13 L204.16 471.13 L203.7 471.38 L203.24 471.89 L203.01 472.66 L203.01 473.17 L203.24 473.94 L203.7 474.44 L204.16 474.7 L204.85 474.7 L205.31 474.44 L206.09 473.58 M207.84 468.84 L207.84 473.68 L208.07 474.44 L208.53 474.7 L209.44 474.7 M206.69 471.13 L209.21 471.13 M212.9 470.63 L212.9 475.2 M213.22 472.25 L212.44 471.38 L211.98 471.13 L211.29 471.13 L210.83 471.38 L210.37 471.89 L210.14 472.66 L210.14 473.17 L210.37 473.94 L210.83 474.44 L211.29 474.7 L211.98 474.7 L212.44 474.44 L213.22 473.58 M219.73 468.88 L217.57 475.17 M219.41 468.88 L221.57 475.17 M217.97 472.91 L221.18 472.91 M222.56 470.63 L222.56 476.99 M222.24 472.25 L223.02 471.38 L223.48 471.13 L224.17 471.13 L224.63 471.38 L225.09 471.89 L225.32 472.66 L225.32 473.17 L225.09 473.94 L224.63 474.44 L224.17 474.7 L223.48 474.7 L223.02 474.44 L222.24 473.58 M226.94 470.63 L226.94 476.99 M226.62 472.25 L227.4 471.38 L227.86 471.13 L228.55 471.13 L229.01 471.38 L229.47 471.89 L229.7 472.66 L229.7 473.17 L229.47 473.94 L229.01 474.44 L228.55 474.7 L227.86 474.7 L227.4 474.44 L226.62 473.58 M231.31 468.84 L231.31 475.2 M232.92 469.34 L233.15 469.6 L233.38 469.34 L233.15 469.09 L232.92 469.34 Z M233.15 470.63 L233.15 475.2 M237.84 472.25 L237.06 471.38 L236.6 471.13 L235.91 471.13 L235.45 471.38 L234.99 471.89 L234.76 472.66 L234.76 473.17 L234.99 473.94 L235.45 474.44 L235.91 474.7 L236.6 474.7 L237.06 474.44 L237.84 473.58 M241.66 470.63 L241.66 475.2 M241.98 472.25 L241.2 471.38 L240.74 471.13 L240.05 471.13 L239.59 471.38 L239.13 471.89 L238.9 472.66 L238.9 473.17 L239.13 473.94 L239.59 474.44 L240.05 474.7 L240.74 474.7 L241.2 474.44 L241.98 473.58 M243.73 468.84 L243.73 473.68 L243.96 474.44 L244.42 474.7 L245.34 474.7 M242.59 471.13 L245.11 471.13 M246.03 469.34 L246.26 469.6 L246.49 469.34 L246.26 469.09 L246.03 469.34 Z M246.26 470.63 L246.26 475.2 M249.02 471.13 L248.56 471.38 L248.1 471.89 L247.87 472.66 L247.87 473.17 L248.1 473.94 L248.56 474.44 L249.02 474.7 L249.71 474.7 L250.17 474.44 L250.63 473.94 L250.86 473.17 L250.86 472.66 L250.63 471.89 L250.17 471.38 L249.71 471.13 L249.02 471.13 Z M252.48 470.63 L252.48 475.2 M252.16 472.5 L253.17 471.38 L253.63 471.13 L254.32 471.13 L254.78 471.38 L255.01 472.15 L255.01 475.2" fill="none" stroke="#000" stroke-width="1.0" stroke-linecap="butt" stroke-linejoin="round" shape-rendering="crispEdges"/>
<path transform="scale(1.1,1)" d="M429.5 449.94 L429.5 456.3 M431.34 449.94 L431.34 456.3 M430.89 450.44 L432.95 450.44 L433.64 450.7 L434.1 451.21 L434.33 451.72 L434.56 452.49 L434.56 453.76 L434.33 454.53 L434.1 455.04 L433.64 455.55 L432.95 455.8 L430.89 455.8 M436.17 449.94 L436.17 456.3 M435.72 455.8 L439.39 455.8 M443.13 451.77 L444.86 456.26 M446.24 451.77 L444.51 456.26 M446.76 453.76 L449.98 453.76 L449.98 453.25 L449.75 452.74 L449.52 452.49 L449.06 452.23 L448.37 452.23 L447.91 452.49 L447.45 453 L447.22 453.76 L447.22 454.27 L447.45 455.04 L447.91 455.55 L448.37 455.8 L449.06 455.8 L449.52 455.55 L450.3 454.68 M451.59 451.73 L451.59 456.3 M451.45 454.23 L451.82 453 L452.28 452.49 L452.74 452.23 L453.88 452.23 M457.08 453.44 L456.65 452.49 L455.96 452.23 L455.27 452.23 L454.58 452.49 L454.35 453 L454.58 453.5 L455.04 453.76 L456.19 454.01 L456.65 454.27 L456.88 454.78 L456.88 455.04 L456.65 455.55 L455.96 455.8 L455.27 455.8 L454.58 455.55 L454.15 454.59 M458.26 450.44 L458.49 450.7 L458.72 450.44 L458.49 450.19 L458.26 450.44 Z M458.49 451.73 L458.49 456.3 M461.25 452.23 L460.79 452.49 L460.33 453 L460.1 453.76 L460.1 454.27 L460.33 455.04 L460.79 455.55 L461.25 455.8 L461.94 455.8 L462.4 455.55 L462.86 455.04 L463.09 454.27 L463.09 453.76 L462.86 453 L462.4 452.49 L461.94 452.23 L461.25 452.23 Z M464.7 451.73 L464.7 456.3 M464.38 453.6 L465.39 452.49 L465.85 452.23 L466.54 452.23 L467 452.49 L467.23 453.25 L467.23 456.3 M469.31 452.23 L469.08 452.49 L469.31 452.74 L469.54 452.49 L469.31 452.23 Z M469.31 455.29 L469.08 455.55 L469.31 455.8 L469.54 455.55 L469.31 455.29 Z M477.59 451.73 L477.59 458.09 M477.91 453.35 L477.13 452.49 L476.67 452.23 L475.98 452.23 L475.52 452.49 L475.06 453 L474.83 453.76 L474.83 454.27 L475.06 455.04 L475.52 455.55 L475.98 455.8 L476.67 455.8 L477.13 455.55 L477.91 454.68 M482.28 453.35 L481.5 452.49 L481.04 452.23 L480.35 452.23 L479.89 452.49 L479.43 453 L479.2 453.76 L479.2 454.27 L479.43 455.04 L479.89 455.55 L480.35 455.8 L481.04 455.8 L481.5 455.55 L482.28 454.68 M483.57 451.73 L483.57 456.3 M483.43 454.23 L483.8 453 L484.26 452.49 L484.72 452.23 L485.87 452.23 M489.09 451.73 L489.09 456.3 M489.41 453.35 L488.63 452.49 L488.17 452.23 L487.48 452.23 L487.02 452.49 L486.56 453 L486.33 453.76 L486.33 454.27 L486.56 455.04 L487.02 455.55 L487.48 455.8 L488.17 455.8 L488.63 455.55 L489.41 454.68 M493.47 449.94 L493.47 456.3 M493.79 453.35 L493 452.49 L492.54 452.23 L491.85 452.23 L491.39 452.49 L490.93 453 L490.7 453.76 L490.7 454.27 L490.93 455.04 L491.39 455.55 L491.85 455.8 L492.54 455.8 L493 455.55 L493.79 454.68 M495.36 451.69 L496.23 451.21 L496.92 450.44 L496.92 456.3 M499.91 449.94 L499.91 456.3 M502.67 452.23 L502.21 452.49 L501.75 453 L501.52 453.76 L501.52 454.27 L501.75 455.04 L502.21 455.55 L502.67 455.8 L503.36 455.8 L503.82 455.55 L504.28 455.04 L504.51 454.27 L504.51 453.76 L504.28 453 L503.82 452.49 L503.36 452.23 L502.67 452.23 Z M506.12 451.73 L506.12 456.3 M505.8 453.6 L506.81 452.49 L507.27 452.23 L507.96 452.23 L508.42 452.49 L508.65 453.25 L508.65 456.3 M513.02 451.73 L513.02 456.31 L512.79 457.07 L512.56 457.33 L512.1 457.59 L511.41 457.59 L510.55 457.11 M513.34 453.35 L512.56 452.49 L512.1 452.23 L511.41 452.23 L510.95 452.49 L510.49 453 L510.26 453.76 L510.26 454.27 L510.49 455.04 L510.95 455.55 L511.41 455.8 L512.1 455.8 L512.56 455.55 L513.34 454.68 M513.72 455.8 L518.31 455.8 M519.01 451.73 L519.01 458.09 M518.68 453.35 L519.47 452.49 L519.93 452.23 L520.62 452.23 L521.08 452.49 L521.54 453 L521.77 453.76 L521.77 454.27 L521.54 455.04 L521.08 455.55 L520.62 455.8 L519.93 455.8 L519.47 455.55 L518.68 454.68 M523.38 449.94 L523.38 456.3 M526.14 452.23 L525.68 452.49 L525.22 453 L524.99 453.76 L524.99 454.27 L525.22 455.04 L525.68 455.55 L526.14 455.8 L526.83 455.8 L527.29 455.55 L527.75 455.04 L527.98 454.27 L527.98 453.76 L527.75 453 L527.29 452.49 L526.83 452.23 L526.14 452.23 Z M529.82 449.94 L529.82 454.78 L530.05 455.55 L530.51 455.8 L531.42 455.8 M528.67 452.23 L531.19 452.23 M534.85 453.44 L534.42 452.49 L533.73 452.23 L533.04 452.23 L532.35 452.49 L532.12 453 L532.35 453.5 L532.81 453.76 L533.96 454.01 L534.42 454.27 L534.65 454.78 L534.65 455.04 L534.42 455.55 L533.73 455.8 L533.04 455.8 L532.35 455.55 L531.92 454.59 M536.49 455.62 L536.26 455.88 L536.49 456.13 L536.72 455.88 L536.49 455.62 Z M538.56 451.73 L538.56 458.09 M538.24 453.35 L539.02 452.49 L539.48 452.23 L540.17 452.23 L540.63 452.49 L541.09 453 L541.32 453.76 L541.32 454.27 L541.09 455.04 L540.63 455.55 L540.17 455.8 L539.48 455.8 L539.02 455.55 L538.24 454.68 M542.93 451.73 L542.93 456.3 M542.79 454.23 L543.16 453 L543.62 452.49 L544.09 452.23 L545.23 452.23 M546.85 452.23 L546.39 452.49 L545.93 453 L545.7 453.76 L545.7 454.27 L545.93 455.04 L546.39 455.55 L546.85 455.8 L547.54 455.8 L548 455.55 L548.46 455.04 L548.69 454.27 L548.69 453.76 L548.46 453 L548 452.49 L547.54 452.23 L546.85 452.23 Z M551.08 455.19 L550.53 455.8 L550.3 455.55 L550.53 455.29 L550.76 455.55 L550.76 456.06 L550.53 456.56 L549.98 457.17 M551.96 451.77 L553.7 456.26 M555.08 451.77 L553.34 456.26 M560.02 451.69 L560.88 451.21 L561.57 450.44 L561.57 456.3 M564.79 455.62 L564.56 455.88 L564.79 456.13 L565.02 455.88 L564.79 455.62 Z M566.92 451.69 L567.78 451.21 L568.47 450.44 L568.47 456.3" fill="none" stroke="#000" stroke-width="1.0" stroke-linecap="butt" stroke-linejoin="round" shape-rendering="crispEdges"/>
<path transform="scale(1.1,1)" d="M466.54 457.25 L466.54 463.6 M466.09 457.75 L468.15 457.75 L468.85 458 L469.31 458.51 L469.54 459.02 L469.77 459.79 L469.77 461.06 L469.54 461.83 L469.31 462.34 L468.85 462.85 L468.15 463.1 L466.09 463.1 M473.91 459.03 L473.91 463.6 M474.23 460.65 L473.45 459.79 L472.99 459.53 L472.3 459.53 L471.84 459.79 L471.38 460.3 L471.15 461.06 L471.15 461.57 L471.38 462.34 L471.84 462.85 L472.3 463.1 L472.99 463.1 L473.45 462.85 L474.23 461.98 M475.98 457.25 L475.98 462.08 L476.21 462.85 L476.67 463.1 L477.58 463.1 M474.83 459.53 L477.35 459.53 M477.82 461.06 L481.04 461.06 L481.04 460.55 L480.81 460.04 L480.58 459.79 L480.12 459.53 L479.43 459.53 L478.97 459.79 L478.51 460.3 L478.28 461.06 L478.28 461.57 L478.51 462.34 L478.97 462.85 L479.43 463.1 L480.12 463.1 L480.58 462.85 L481.36 461.98 M482.88 459.53 L482.65 459.79 L482.88 460.04 L483.11 459.79 L482.88 459.53 Z M482.88 462.59 L482.65 462.85 L482.88 463.1 L483.11 462.85 L482.88 462.59 Z M488.63 459.52 L488.63 458.77 L488.86 458.25 L489.09 458 L489.55 457.75 L490.47 457.75 L490.93 458 L491.16 458.25 L491.39 458.77 L491.39 459.28 L491.16 459.79 L490.7 460.55 L488.4 463.1 L492.08 463.1 M494.39 457.75 L493.7 458 L493.23 458.77 L493 460.04 L493 460.81 L493.23 462.08 L493.7 462.85 L494.39 463.1 L494.85 463.1 L495.54 462.85 L496 462.08 L496.23 460.81 L496.23 460.04 L496 458.77 L495.54 458 L494.85 457.75 L494.39 457.75 Z M498.99 457.75 L498.3 458 L497.84 458.77 L497.61 460.04 L497.61 460.81 L497.84 462.08 L498.3 462.85 L498.99 463.1 L499.45 463.1 L500.14 462.85 L500.6 462.08 L500.83 460.81 L500.83 460.04 L500.6 458.77 L500.14 458 L499.45 457.75 L498.99 457.75 Z M503.36 457.75 L502.67 458 L502.44 458.51 L502.44 459.02 L502.67 459.53 L503.13 459.79 L504.05 460.04 L504.74 460.3 L505.2 460.81 L505.43 461.31 L505.43 462.08 L505.2 462.59 L504.97 462.85 L504.28 463.1 L503.36 463.1 L502.67 462.85 L502.44 462.59 L502.21 462.08 L502.21 461.31 L502.44 460.81 L502.9 460.3 L503.59 460.04 L504.51 459.79 L504.97 459.53 L505.2 459.02 L505.2 458.51 L504.97 458 L504.28 457.75 L503.36 457.75 Z M510.94 456.29 L506.36 465.32 M512.16 458.99 L513.02 458.51 L513.71 457.75 L513.71 463.6 M517.85 457.75 L517.16 458 L516.7 458.77 L516.47 460.04 L516.47 460.81 L516.7 462.08 L517.16 462.85 L517.85 463.1 L518.31 463.1 L519.01 462.85 L519.47 462.08 L519.7 460.81 L519.7 460.04 L519.47 458.77 L519.01 458 L518.31 457.75 L517.85 457.75 Z M525.21 456.29 L520.62 465.32 M526.37 459.52 L526.37 458.77 L526.6 458.25 L526.83 458 L527.29 457.75 L528.21 457.75 L528.67 458 L528.9 458.25 L529.13 458.77 L529.13 459.28 L528.9 459.79 L528.44 460.55 L526.14 463.1 L529.81 463.1 M534.16 457.29 L531.47 463.55 M530.29 457.75 L534.42 457.75 M539.25 459.52 L539.25 458.77 L539.48 458.25 L539.71 458 L540.17 457.75 L541.09 457.75 L541.55 458 L541.78 458.25 L542.01 458.77 L542.01 459.28 L541.78 459.79 L541.32 460.55 L539.02 463.1 L542.7 463.1 M543.85 459.52 L543.85 458.77 L544.09 458.25 L544.32 458 L544.78 457.75 L545.7 457.75 L546.16 458 L546.39 458.25 L546.62 458.77 L546.62 459.28 L546.39 459.79 L545.93 460.55 L543.62 463.1 L547.3 463.1 M548.69 459.53 L548.46 459.79 L548.69 460.04 L548.92 459.79 L548.69 459.53 Z M548.69 462.59 L548.46 462.85 L548.69 463.1 L548.92 462.85 L548.69 462.59 Z M553.09 457.34 L550.53 461.31 L554.43 461.31 M552.83 457.25 L552.83 463.6 M558.26 459.06 L557.89 460.3 L557.43 460.81 L556.74 461.06 L556.51 461.06 L555.82 460.81 L555.36 460.3 L555.13 459.53 L555.13 459.28 L555.36 458.51 L555.82 458 L556.51 457.75 L556.74 457.75 L557.43 458 L557.89 458.51 L558.12 459.53 L558.12 460.81 L557.89 462.08 L557.43 462.85 L556.74 463.1 L556.28 463.1 L555.59 462.85 L555.16 461.89 M560.19 459.53 L559.96 459.79 L560.19 460.04 L560.42 459.79 L560.19 459.53 Z M560.19 462.59 L559.96 462.85 L560.19 463.1 L560.42 462.85 L560.19 462.59 Z M564.6 457.34 L562.03 461.31 L565.94 461.31 M564.33 457.25 L564.33 463.6 M569.77 459.06 L569.4 460.3 L568.93 460.81 L568.24 461.06 L568.01 461.06 L567.32 460.81 L566.86 460.3 L566.63 459.53 L566.63 459.28 L566.86 458.51 L567.32 458 L568.01 457.75 L568.24 457.75 L568.93 458 L569.4 458.51 L569.63 459.53 L569.63 460.81 L569.4 462.08 L568.93 462.85 L568.24 463.1 L567.78 463.1 L567.09 462.85 L566.66 461.89" fill="none" stroke="#000" stroke-width="1.0" stroke-linecap="butt" stroke-linejoin="round" shape-rendering="crispEdges"/>
<path transform="scale(1.1,1)" d="M365.99 464.44 L365.99 470.8 M365.54 464.94 L367.61 464.94 L368.3 465.2 L368.76 465.71 L368.99 466.22 L369.22 466.99 L369.22 468.26 L368.99 469.03 L368.76 469.54 L368.3 470.05 L367.61 470.3 L365.54 470.3 M373.36 466.23 L373.36 470.8 M373.68 467.85 L372.9 466.99 L372.44 466.73 L371.75 466.73 L371.29 466.99 L370.83 467.5 L370.6 468.26 L370.6 468.77 L370.83 469.54 L371.29 470.05 L371.75 470.3 L372.44 470.3 L372.9 470.05 L373.68 469.18 M375.43 464.44 L375.43 469.28 L375.66 470.05 L376.12 470.3 L377.03 470.3 M374.28 466.73 L376.8 466.73 M380.49 466.23 L380.49 470.8 M380.81 467.85 L380.03 466.99 L379.57 466.73 L378.88 466.73 L378.42 466.99 L377.96 467.5 L377.73 468.26 L377.73 468.77 L377.96 469.54 L378.42 470.05 L378.88 470.3 L379.57 470.3 L380.03 470.05 L380.81 469.18 M385.37 466.27 L387.11 470.76 M388.49 466.27 L386.75 470.76 M389.01 468.26 L392.22 468.26 L392.22 467.75 L391.99 467.24 L391.76 466.99 L391.3 466.73 L390.61 466.73 L390.15 466.99 L389.69 467.5 L389.46 468.26 L389.46 468.77 L389.69 469.54 L390.15 470.05 L390.61 470.3 L391.3 470.3 L391.76 470.05 L392.55 469.18 M393.84 466.23 L393.84 470.8 M393.69 468.73 L394.07 467.5 L394.53 466.99 L394.99 466.73 L396.13 466.73 M399.33 467.94 L398.9 466.99 L398.21 466.73 L397.52 466.73 L396.83 466.99 L396.6 467.5 L396.83 468 L397.29 468.26 L398.44 468.51 L398.9 468.77 L399.13 469.28 L399.13 469.54 L398.9 470.05 L398.21 470.3 L397.52 470.3 L396.83 470.05 L396.39 469.09 M400.51 464.94 L400.74 465.2 L400.97 464.94 L400.74 464.69 L400.51 464.94 Z M400.74 466.23 L400.74 470.8 M403.5 466.73 L403.04 466.99 L402.58 467.5 L402.35 468.26 L402.35 468.77 L402.58 469.54 L403.04 470.05 L403.5 470.3 L404.19 470.3 L404.65 470.05 L405.11 469.54 L405.34 468.77 L405.34 468.26 L405.11 467.5 L404.65 466.99 L404.19 466.73 L403.5 466.73 Z M406.95 466.23 L406.95 470.8 M406.63 468.1 L407.64 466.99 L408.1 466.73 L408.79 466.73 L409.25 466.99 L409.48 467.75 L409.48 470.8 M411.55 466.73 L411.32 466.99 L411.55 467.24 L411.78 466.99 L411.55 466.73 Z M411.55 469.79 L411.32 470.05 L411.55 470.3 L411.78 470.05 L411.55 469.79 Z M418.23 463.43 L418.23 471.82 M419.15 463.43 L419.15 471.82 M420.62 466.06 L419.84 465.2 L419.15 464.94 L418.23 464.94 L417.53 465.2 L417.07 465.71 L417.07 466.22 L417.3 466.73 L417.53 466.99 L418 467.24 L419.38 467.75 L419.84 468 L420.07 468.26 L420.3 468.77 L420.3 469.54 L419.84 470.05 L419.15 470.3 L418.23 470.3 L417.53 470.05 L416.75 469.18 M425.22 466.06 L424.44 465.2 L423.75 464.94 L422.83 464.94 L422.14 465.2 L421.68 465.71 L421.68 466.22 L421.91 466.73 L422.14 466.99 L422.6 467.24 L423.98 467.75 L424.44 468 L424.67 468.26 L424.9 468.77 L424.9 469.54 L424.44 470.05 L423.75 470.3 L422.83 470.3 L422.14 470.05 L421.36 469.18 M426.74 464.44 L426.74 469.28 L426.97 470.05 L427.43 470.3 L428.34 470.3 M425.59 466.73 L428.11 466.73 M431.8 466.23 L431.8 470.8 M432.12 467.85 L431.34 466.99 L430.88 466.73 L430.19 466.73 L429.73 466.99 L429.27 467.5 L429.04 468.26 L429.04 468.77 L429.27 469.54 L429.73 470.05 L430.19 470.3 L430.88 470.3 L431.34 470.05 L432.12 469.18 M433.87 464.44 L433.87 469.28 L434.1 470.05 L434.56 470.3 L435.48 470.3 M432.73 466.73 L435.25 466.73 M435.72 468.26 L438.93 468.26 L438.93 467.75 L438.7 467.24 L438.47 466.99 L438.01 466.73 L437.32 466.73 L436.86 466.99 L436.4 467.5 L436.17 468.26 L436.17 468.77 L436.4 469.54 L436.86 470.05 L437.32 470.3 L438.01 470.3 L438.47 470.05 L439.25 469.18 M440.77 466.73 L440.54 466.99 L440.77 467.24 L441 466.99 L440.77 466.73 Z M440.77 469.79 L440.54 470.05 L440.77 470.3 L441 470.05 L440.77 469.79 Z M445.89 466.27 L447.62 470.76 M449.01 466.27 L447.27 470.76 M452.74 466.23 L452.74 470.8 M453.06 467.85 L452.28 466.99 L451.82 466.73 L451.13 466.73 L450.67 466.99 L450.21 467.5 L449.98 468.26 L449.98 468.77 L450.21 469.54 L450.67 470.05 L451.13 470.3 L451.82 470.3 L452.28 470.05 L453.06 469.18 M454.58 466.23 L454.58 472.59 M454.26 467.85 L455.04 466.99 L455.5 466.73 L456.19 466.73 L456.65 466.99 L457.11 467.5 L457.34 468.26 L457.34 468.77 L457.11 469.54 L456.65 470.05 L456.19 470.3 L455.5 470.3 L455.04 470.05 L454.26 469.18 M458.5 468 L463.55 468 M467.46 466.23 L467.46 472.59 M467.78 467.85 L467 466.99 L466.54 466.73 L465.85 466.73 L465.39 466.99 L464.93 467.5 L464.7 468.26 L464.7 468.77 L464.93 469.54 L465.39 470.05 L465.85 470.3 L466.54 470.3 L467 470.05 L467.78 469.18 M472.16 467.85 L471.38 466.99 L470.92 466.73 L470.23 466.73 L469.77 466.99 L469.31 467.5 L469.08 468.26 L469.08 468.77 L469.31 469.54 L469.77 470.05 L470.23 470.3 L470.92 470.3 L471.38 470.05 L472.16 469.18 M473.45 466.23 L473.45 470.8 M473.3 468.73 L473.68 467.5 L474.14 466.99 L474.6 466.73 L475.74 466.73 M478.97 466.23 L478.97 470.8 M479.29 467.85 L478.51 466.99 L478.05 466.73 L477.36 466.73 L476.9 466.99 L476.44 467.5 L476.21 468.26 L476.21 468.77 L476.44 469.54 L476.9 470.05 L477.36 470.3 L478.05 470.3 L478.51 470.05 L479.29 469.18 M483.34 464.44 L483.34 470.8 M483.66 467.85 L482.88 466.99 L482.42 466.73 L481.73 466.73 L481.27 466.99 L480.81 467.5 L480.58 468.26 L480.58 468.77 L480.81 469.54 L481.27 470.05 L481.73 470.3 L482.42 470.3 L482.88 470.05 L483.66 469.18 M485.24 466.19 L486.1 465.71 L486.79 464.94 L486.79 470.8 M489.78 464.44 L489.78 470.8 M492.54 466.73 L492.08 466.99 L491.62 467.5 L491.39 468.26 L491.39 468.77 L491.62 469.54 L492.08 470.05 L492.54 470.3 L493.23 470.3 L493.7 470.05 L494.16 469.54 L494.39 468.77 L494.39 468.26 L494.16 467.5 L493.7 466.99 L493.23 466.73 L492.54 466.73 Z M496 466.23 L496 470.8 M495.68 468.1 L496.69 466.99 L497.15 466.73 L497.84 466.73 L498.3 466.99 L498.53 467.75 L498.53 470.8 M502.9 466.23 L502.9 470.81 L502.67 471.57 L502.44 471.83 L501.98 472.09 L501.29 472.09 L500.42 471.61 M503.22 467.85 L502.44 466.99 L501.98 466.73 L501.29 466.73 L500.83 466.99 L500.37 467.5 L500.14 468.26 L500.14 468.77 L500.37 469.54 L500.83 470.05 L501.29 470.3 L501.98 470.3 L502.44 470.05 L503.22 469.18 M504.28 468 L509.34 468 M510.5 464.94 L513.48 464.94 L512.1 466.99 L512.79 466.99 L513.25 467.24 L513.48 467.5 L513.71 468.26 L513.71 468.77 L513.48 469.54 L513.02 470.05 L512.33 470.3 L511.64 470.3 L510.95 470.05 L510.72 469.79 L510.29 468.83 M515.55 470.12 L515.32 470.38 L515.55 470.63 L515.78 470.38 L515.55 470.12 Z M518.54 464.94 L517.85 465.2 L517.62 465.71 L517.62 466.22 L517.85 466.73 L518.31 466.99 L519.24 467.24 L519.93 467.5 L520.39 468 L520.62 468.51 L520.62 469.28 L520.39 469.79 L520.16 470.05 L519.47 470.3 L518.54 470.3 L517.85 470.05 L517.62 469.79 L517.39 469.28 L517.39 468.51 L517.62 468 L518.08 467.5 L518.77 467.24 L519.7 466.99 L520.16 466.73 L520.39 466.22 L520.39 465.71 L520.16 465.2 L519.47 464.94 L518.54 464.94 Z M521.77 468 L526.82 468 M529.36 464.94 L528.67 465.2 L528.21 465.97 L527.98 467.24 L527.98 468 L528.21 469.28 L528.67 470.05 L529.36 470.3 L529.82 470.3 L530.51 470.05 L530.97 469.28 L531.2 468 L531.2 467.24 L530.97 465.97 L530.51 465.2 L529.82 464.94 L529.36 464.94 Z M533.04 470.12 L532.81 470.38 L533.04 470.63 L533.27 470.38 L533.04 470.12 Z M537.61 467.94 L537.18 466.99 L536.49 466.73 L535.8 466.73 L535.11 466.99 L534.88 467.5 L535.11 468 L535.57 468.26 L536.72 468.51 L537.18 468.77 L537.41 469.28 L537.41 469.54 L537.18 470.05 L536.49 470.3 L535.8 470.3 L535.11 470.05 L534.68 469.09 M539.94 466.73 L539.48 466.99 L539.02 467.5 L538.79 468.26 L538.79 468.77 L539.02 469.54 L539.48 470.05 L539.94 470.3 L540.63 470.3 L541.09 470.05 L541.55 469.54 L541.78 468.77 L541.78 468.26 L541.55 467.5 L541.09 466.99 L540.63 466.73 L539.94 466.73 Z M543.39 464.44 L543.39 470.8 M548.22 464.94 L545.47 464.94 L545.24 467.24 L545.47 466.99 L546.16 466.73 L546.85 466.73 L547.54 466.99 L548 467.5 L548.23 468.26 L548.23 468.77 L548 469.54 L547.54 470.05 L546.85 470.3 L546.16 470.3 L545.47 470.05 L545.24 469.79 L544.8 468.83 M548.69 470.3 L553.28 470.3 M554.03 466.19 L554.9 465.71 L555.59 464.94 L555.59 470.8 M559.73 464.94 L559.04 465.2 L558.58 465.97 L558.35 467.24 L558.35 468 L558.58 469.28 L559.04 470.05 L559.73 470.3 L560.19 470.3 L560.88 470.05 L561.34 469.28 L561.57 468 L561.57 467.24 L561.34 465.97 L560.88 465.2 L560.19 464.94 L559.73 464.94 Z M567.78 463.43 L567.78 471.82 M568.7 463.43 L568.7 471.82 M570.18 466.06 L569.39 465.2 L568.7 464.94 L567.78 464.94 L567.09 465.2 L566.63 465.71 L566.63 466.22 L566.86 466.73 L567.09 466.99 L567.55 467.24 L568.93 467.75 L569.39 468 L569.63 468.26 L569.86 468.77 L569.86 469.54 L569.39 470.05 L568.7 470.3 L567.78 470.3 L567.09 470.05 L566.31 469.18" fill="none" stroke="#000" stroke-width="1.0" stroke-linecap="butt" stroke-linejoin="round" shape-rendering="crispEdges"/>
<path transform="scale(1.1,1)" d="M498.99 471.44 L498.99 477.8 M498.53 471.94 L500.6 471.94 L501.29 472.2 L501.75 472.71 L501.98 473.22 L502.21 473.99 L502.21 475.26 L501.98 476.03 L501.75 476.54 L501.29 477.05 L500.6 477.3 L498.53 477.3 M506.35 473.23 L506.35 477.8 M506.67 474.85 L505.89 473.99 L505.43 473.73 L504.74 473.73 L504.28 473.99 L503.82 474.5 L503.59 475.26 L503.59 475.77 L503.82 476.54 L504.28 477.05 L504.74 477.3 L505.43 477.3 L505.89 477.05 L506.67 476.18 M508.42 471.44 L508.42 476.28 L508.65 477.05 L509.11 477.3 L510.03 477.3 M507.28 473.73 L509.8 473.73 M510.27 475.26 L513.48 475.26 L513.48 474.75 L513.25 474.24 L513.02 473.99 L512.56 473.73 L511.87 473.73 L511.41 473.99 L510.95 474.5 L510.72 475.26 L510.72 475.77 L510.95 476.54 L511.41 477.05 L511.87 477.3 L512.56 477.3 L513.02 477.05 L513.8 476.18 M515.32 473.73 L515.09 473.99 L515.32 474.24 L515.55 473.99 L515.32 473.73 Z M515.32 476.79 L515.09 477.05 L515.32 477.3 L515.55 477.05 L515.32 476.79 Z M523.98 473.26 L523.61 474.5 L523.15 475 L522.46 475.26 L522.23 475.26 L521.54 475 L521.08 474.5 L520.85 473.73 L520.85 473.48 L521.08 472.71 L521.54 472.2 L522.23 471.94 L522.46 471.94 L523.15 472.2 L523.61 472.71 L523.84 473.73 L523.84 475 L523.61 476.28 L523.15 477.05 L522.46 477.3 L522 477.3 L521.31 477.05 L520.87 476.09 M525.22 475 L530.27 475 M531.66 471.44 L531.66 477.8 M531.21 471.94 L533.27 471.94 L533.96 472.2 L534.42 472.71 L534.65 473.22 L534.88 473.99 L534.88 475.26 L534.65 476.03 L534.42 476.54 L533.96 477.05 L533.27 477.3 L531.21 477.3 M535.81 475.26 L539.02 475.26 L539.02 474.75 L538.79 474.24 L538.56 473.99 L538.1 473.73 L537.41 473.73 L536.95 473.99 L536.49 474.5 L536.26 475.26 L536.26 475.77 L536.49 476.54 L536.95 477.05 L537.41 477.3 L538.1 477.3 L538.56 477.05 L539.34 476.18 M543.48 474.85 L542.7 473.99 L542.24 473.73 L541.55 473.73 L541.09 473.99 L540.63 474.5 L540.4 475.26 L540.4 475.77 L540.63 476.54 L541.09 477.05 L541.55 477.3 L542.24 477.3 L542.7 477.05 L543.48 476.18 M544.32 475 L549.37 475 M550.76 473.72 L550.76 472.97 L550.99 472.45 L551.22 472.2 L551.68 471.94 L552.6 471.94 L553.06 472.2 L553.29 472.45 L553.52 472.97 L553.52 473.48 L553.29 473.99 L552.83 474.75 L550.53 477.3 L554.2 477.3 M556.51 471.94 L555.82 472.2 L555.36 472.97 L555.13 474.24 L555.13 475 L555.36 476.28 L555.82 477.05 L556.51 477.3 L556.97 477.3 L557.66 477.05 L558.12 476.28 L558.35 475 L558.35 474.24 L558.12 472.97 L557.66 472.2 L556.97 471.94 L556.51 471.94 Z M561.11 471.94 L560.42 472.2 L559.96 472.97 L559.73 474.24 L559.73 475 L559.96 476.28 L560.42 477.05 L561.11 477.3 L561.57 477.3 L562.26 477.05 L562.72 476.28 L562.95 475 L562.95 474.24 L562.72 472.97 L562.26 472.2 L561.57 471.94 L561.11 471.94 Z M565.48 471.94 L564.79 472.2 L564.56 472.71 L564.56 473.22 L564.79 473.73 L565.25 473.99 L566.17 474.24 L566.86 474.5 L567.32 475 L567.55 475.51 L567.55 476.28 L567.32 476.79 L567.09 477.05 L566.4 477.3 L565.48 477.3 L564.79 477.05 L564.56 476.79 L564.33 476.28 L564.33 475.51 L564.56 475 L565.02 474.5 L565.71 474.24 L566.63 473.99 L567.09 473.73 L567.32 473.22 L567.32 472.71 L567.09 472.2 L566.4 471.94 L565.48 471.94 Z M569.95 476.69 L569.39 477.3 L569.16 477.05 L569.39 476.79 L569.63 477.05 L569.63 477.56 L569.39 478.06 L568.84 478.67" fill="none" stroke="#000" stroke-width="1.0" stroke-linecap="butt" stroke-linejoin="round" shape-rendering="crispEdges"/>
</svg>
</body></html>
